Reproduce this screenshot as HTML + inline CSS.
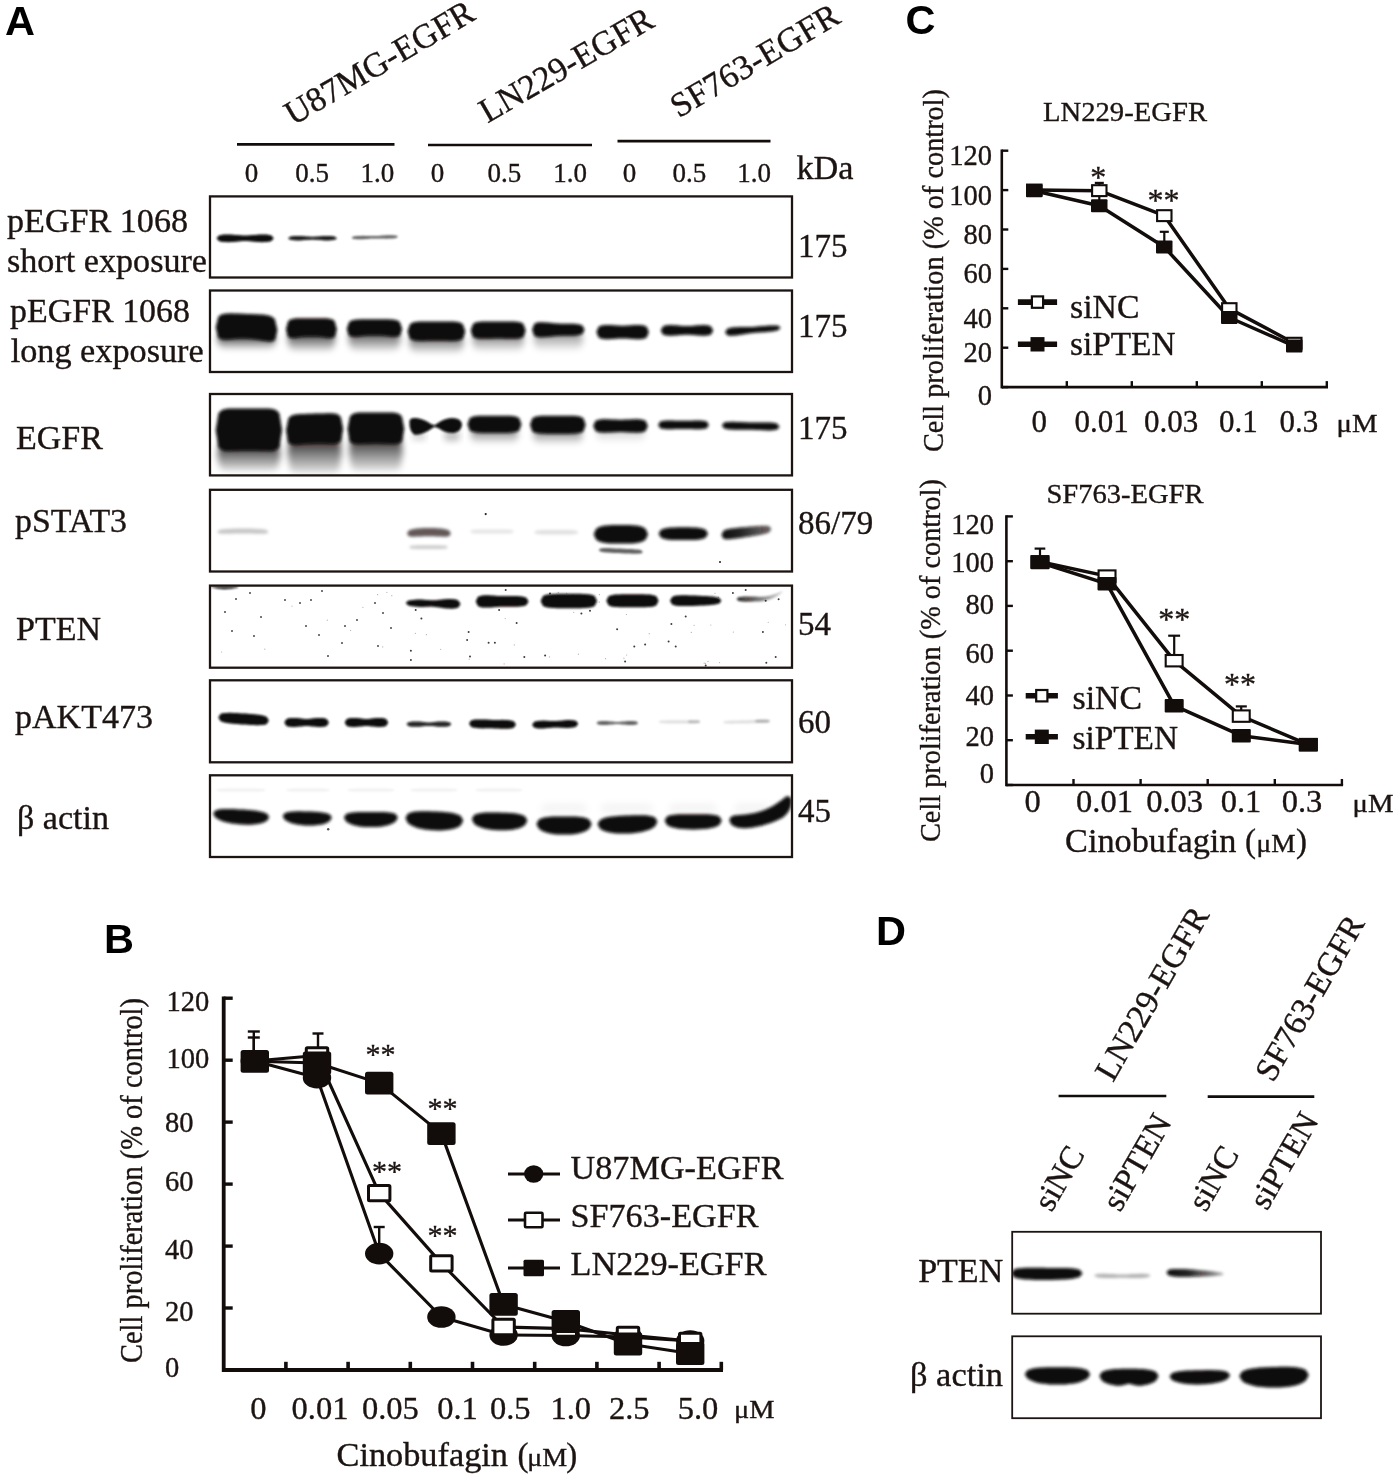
<!DOCTYPE html>
<html lang="en"><head><meta charset="utf-8"><title>Figure</title>
<style>
html,body{margin:0;padding:0;background:#fff}
svg{display:block}
text{font-family:"Liberation Serif","DejaVu Serif",serif;fill:#1c1412;stroke:#1c1412;stroke-width:.35px}
.sb{font-family:"Liberation Sans","DejaVu Sans",sans-serif;font-weight:bold;fill:#000;stroke:none}
line,polyline{stroke:#120c0b;fill:none}
</style></head><body>
<svg width="1400" height="1476" viewBox="0 0 1400 1476">
<defs>
<filter id="b1" x="-20%" y="-60%" width="140%" height="220%"><feGaussianBlur stdDeviation="0.9"/></filter>
<filter id="b2" x="-20%" y="-60%" width="140%" height="220%"><feGaussianBlur stdDeviation="1.8"/></filter>
<filter id="b3" x="-20%" y="-60%" width="140%" height="220%"><feGaussianBlur stdDeviation="3"/></filter>
<filter id="b5" x="-30%" y="-80%" width="160%" height="260%"><feGaussianBlur stdDeviation="5"/></filter>
</defs>
<rect width="1400" height="1476" fill="#fff"/>

<text x="5.0" y="34.7" font-size="41.5" class="sb">A</text>
<text x="104.0" y="952.8" font-size="41.5" class="sb">B</text>
<text x="905.5" y="34.4" font-size="41.5" class="sb">C</text>
<text x="876.0" y="944.5" font-size="41.5" class="sb">D</text>
<g id="panelA">
<text x="293.0" y="126.0" font-size="34.5" textLength="213.0" lengthAdjust="spacingAndGlyphs" transform="rotate(-30.2 293.0 126.0)">U87MG-EGFR</text>
<text x="487.4" y="123.5" font-size="34.5" textLength="195.0" lengthAdjust="spacingAndGlyphs" transform="rotate(-30 487.4 123.5)">LN229-EGFR</text>
<text x="678.8" y="118.5" font-size="34.5" textLength="190.0" lengthAdjust="spacingAndGlyphs" transform="rotate(-30.6 678.8 118.5)">SF763-EGFR</text>
<line x1="237.0" y1="144.4" x2="394.5" y2="144.4" stroke-width="2.6" stroke-linecap="butt"/>
<line x1="428.0" y1="145.0" x2="592.0" y2="145.0" stroke-width="2.6" stroke-linecap="butt"/>
<line x1="617.5" y1="141.1" x2="770.5" y2="141.1" stroke-width="2.6" stroke-linecap="butt"/>
<text x="251.4" y="182.0" font-size="27" text-anchor="middle">0</text>
<text x="312.0" y="182.0" font-size="27" text-anchor="middle">0.5</text>
<text x="377.4" y="182.0" font-size="27" text-anchor="middle">1.0</text>
<text x="437.4" y="182.0" font-size="27" text-anchor="middle">0</text>
<text x="504.3" y="182.0" font-size="27" text-anchor="middle">0.5</text>
<text x="570.2" y="182.0" font-size="27" text-anchor="middle">1.0</text>
<text x="629.5" y="182.0" font-size="27" text-anchor="middle">0</text>
<text x="689.3" y="182.0" font-size="27" text-anchor="middle">0.5</text>
<text x="754.2" y="182.0" font-size="27" text-anchor="middle">1.0</text>
<text x="796.5" y="179.0" font-size="33" textLength="57.0" lengthAdjust="spacingAndGlyphs">kDa</text>
<text x="7.0" y="231.5" font-size="33.5" textLength="181.0" lengthAdjust="spacingAndGlyphs">pEGFR 1068</text>
<text x="7.0" y="272.0" font-size="33.5" textLength="200.0" lengthAdjust="spacingAndGlyphs">short exposure</text>
<text x="10.0" y="321.7" font-size="33.5" textLength="180.0" lengthAdjust="spacingAndGlyphs">pEGFR 1068</text>
<text x="10.7" y="362.0" font-size="33.5" textLength="193.0" lengthAdjust="spacingAndGlyphs">long exposure</text>
<text x="16.0" y="448.8" font-size="33.5" textLength="87.0" lengthAdjust="spacingAndGlyphs">EGFR</text>
<text x="15.0" y="532.3" font-size="33.5" textLength="112.0" lengthAdjust="spacingAndGlyphs">pSTAT3</text>
<text x="16.0" y="640.2" font-size="33.5" textLength="85.0" lengthAdjust="spacingAndGlyphs">PTEN</text>
<text x="15.0" y="728.0" font-size="33.5" textLength="138.0" lengthAdjust="spacingAndGlyphs">pAKT473</text>
<text x="17.0" y="828.8" font-size="33.5" textLength="92.0" lengthAdjust="spacingAndGlyphs">β actin</text>
<text x="798.0" y="256.5" font-size="33">175</text>
<text x="798.0" y="337.0" font-size="33">175</text>
<text x="798.0" y="439.3" font-size="33">175</text>
<text x="798.0" y="534.3" font-size="33">86/79</text>
<text x="798.0" y="634.8" font-size="33">54</text>
<text x="798.0" y="732.7" font-size="33">60</text>
<text x="798.0" y="821.7" font-size="33">45</text>
<clipPath id="cA"><rect x="210" y="196.4" width="582" height="81.1"/><rect x="210" y="290.5" width="582" height="81.5"/><rect x="210" y="394" width="582" height="81.4"/><rect x="210" y="489.8" width="582" height="81.7"/><rect x="210" y="585.6" width="582" height="82.1"/><rect x="210" y="680.3" width="582" height="82.0"/><rect x="210" y="775.3" width="582" height="81.7"/></clipPath><g clip-path="url(#cA)">
<linearGradient id="sm" x1="0" x2="0" y1="0" y2="1"><stop offset="0" stop-color="#0a0909" stop-opacity="1"/><stop offset=".45" stop-color="#0a0909" stop-opacity=".55"/><stop offset="1" stop-color="#0a0909" stop-opacity=".1"/></linearGradient>
<polygon points="216.5,238.3 218.9,235.5 221.3,234.9 223.7,234.6 226.1,234.5 228.4,234.4 230.8,234.5 233.2,234.7 235.6,234.9 238.0,235.1 240.4,235.3 242.8,235.5 245.2,235.5 247.5,235.5 249.9,235.3 252.3,235.1 254.7,234.9 257.1,234.7 259.5,234.5 261.9,234.4 264.2,234.5 266.6,234.6 269.0,234.9 271.4,235.5 273.8,238.3 273.8,238.3 271.4,241.1 269.0,241.7 266.6,242.0 264.2,242.1 261.9,242.2 259.5,242.1 257.1,241.9 254.7,241.7 252.3,241.5 249.9,241.3 247.5,241.1 245.2,241.1 242.8,241.1 240.4,241.3 238.0,241.5 235.6,241.7 233.2,241.9 230.8,242.1 228.4,242.2 226.1,242.1 223.7,242.0 221.3,241.7 218.9,241.1 216.5,238.3" fill="#0a0909" fill-opacity="1.0" filter="url(#b1)"/>
<polygon points="288.0,238.2 290.0,236.7 292.1,236.3 294.1,236.1 296.2,236.0 298.2,236.0 300.2,236.0 302.3,236.1 304.3,236.3 306.4,236.5 308.4,236.6 310.5,236.7 312.5,236.8 314.5,236.7 316.6,236.6 318.6,236.5 320.7,236.3 322.7,236.1 324.8,236.0 326.8,236.0 328.8,236.0 330.9,236.1 332.9,236.3 335.0,236.7 337.0,238.2 337.0,238.2 335.0,239.7 332.9,240.1 330.9,240.3 328.8,240.4 326.8,240.4 324.8,240.4 322.7,240.3 320.7,240.1 318.6,239.9 316.6,239.8 314.5,239.7 312.5,239.6 310.5,239.7 308.4,239.8 306.4,239.9 304.3,240.1 302.3,240.3 300.2,240.4 298.2,240.4 296.2,240.4 294.1,240.3 292.1,240.1 290.0,239.7 288.0,238.2" fill="#0a0909" fill-opacity="0.95" filter="url(#b1)"/>
<polygon points="351.5,237.8 353.4,236.6 355.4,236.3 357.3,236.1 359.2,235.9 361.2,235.9 363.1,235.8 365.1,235.9 367.0,235.9 368.9,236.0 370.9,236.1 372.8,236.1 374.8,236.1 376.7,236.0 378.6,235.9 380.6,235.7 382.5,235.6 384.4,235.5 386.4,235.3 388.3,235.3 390.2,235.3 392.2,235.3 394.1,235.4 396.1,235.6 398.0,236.8 398.0,236.8 396.1,237.9 394.1,238.2 392.2,238.4 390.2,238.6 388.3,238.6 386.4,238.7 384.4,238.6 382.5,238.6 380.6,238.5 378.6,238.4 376.7,238.4 374.8,238.4 372.8,238.5 370.9,238.6 368.9,238.8 367.0,238.9 365.1,239.0 363.1,239.2 361.2,239.2 359.2,239.2 357.3,239.2 355.4,239.1 353.4,238.9 351.5,237.8" fill="#0a0909" fill-opacity="0.62" filter="url(#b1)"/>
<polygon points="217.2,340.3 219.6,333.5 222.1,332.4 224.5,331.9 227.0,331.7 229.4,331.6 231.9,331.6 234.3,331.6 236.8,331.6 239.2,331.6 241.7,331.6 244.1,331.6 246.5,331.6 249.0,331.6 251.4,331.6 253.9,331.6 256.3,331.6 258.8,331.6 261.2,331.6 263.7,331.6 266.1,331.7 268.6,331.9 271.0,332.4 273.5,333.5 275.9,340.3 275.9,340.3 273.5,347.1 271.0,348.2 268.6,348.7 266.1,348.9 263.7,349.0 261.2,349.0 258.8,349.0 256.3,349.0 253.9,349.0 251.4,349.0 249.0,349.0 246.5,349.0 244.1,349.0 241.7,349.0 239.2,349.0 236.8,349.0 234.3,349.0 231.9,349.0 229.4,349.0 227.0,348.9 224.5,348.7 222.1,348.2 219.6,347.1 217.2,340.3" fill="url(#sm)" fill-opacity="1" filter="url(#b3)"/>
<polygon points="215.7,327.5 218.3,316.8 220.8,314.8 223.4,313.9 226.0,313.5 228.6,313.4 231.1,313.3 233.7,313.4 236.3,313.5 238.8,313.6 241.4,313.7 244.0,313.8 246.5,313.9 249.1,314.0 251.7,314.1 254.3,314.2 256.8,314.3 259.4,314.4 262.0,314.6 264.5,314.8 267.1,315.2 269.7,315.8 272.3,316.9 274.8,319.0 277.4,330.0 277.4,330.0 274.8,339.9 272.3,341.2 269.7,341.4 267.1,341.2 264.5,340.8 262.0,340.4 259.4,340.0 256.8,339.6 254.3,339.2 251.7,338.9 249.1,338.7 246.5,338.6 244.0,338.5 241.4,338.5 238.8,338.6 236.3,338.7 233.7,338.9 231.1,339.2 228.6,339.4 226.0,339.6 223.4,339.5 220.8,339.1 218.3,337.7 215.7,327.5" fill="#0a0909" fill-opacity="1.0" filter="url(#b2)"/>
<polygon points="287.5,340.2 289.5,331.8 291.5,330.4 293.5,329.8 295.5,329.6 297.5,329.5 299.4,329.4 301.4,329.4 303.4,329.4 305.4,329.4 307.4,329.4 309.4,329.4 311.4,329.4 313.4,329.4 315.4,329.4 317.4,329.4 319.4,329.4 321.4,329.4 323.4,329.4 325.3,329.5 327.3,329.6 329.3,329.8 331.3,330.4 333.3,331.8 335.3,340.2 335.3,340.2 333.3,348.6 331.3,350.0 329.3,350.6 327.3,350.8 325.3,350.9 323.4,351.0 321.4,351.0 319.4,351.0 317.4,351.0 315.4,351.0 313.4,351.0 311.4,351.0 309.4,351.0 307.4,351.0 305.4,351.0 303.4,351.0 301.4,351.0 299.4,351.0 297.5,350.9 295.5,350.8 293.5,350.6 291.5,350.0 289.5,348.6 287.5,340.2" fill="url(#sm)" fill-opacity="0.95" filter="url(#b3)"/>
<polygon points="286.0,329.3 288.1,321.2 290.2,319.6 292.4,318.9 294.5,318.5 296.6,318.3 298.7,318.3 300.8,318.2 302.9,318.2 305.1,318.2 307.2,318.2 309.3,318.2 311.4,318.2 313.5,318.2 315.6,318.2 317.8,318.2 319.9,318.2 322.0,318.2 324.1,318.3 326.2,318.3 328.3,318.5 330.4,318.9 332.6,319.6 334.7,321.2 336.8,329.3 336.8,329.3 334.7,336.8 332.6,337.7 330.4,338.0 328.3,337.9 326.2,337.6 324.1,337.3 322.0,337.1 319.9,336.8 317.8,336.6 315.6,336.5 313.5,336.4 311.4,336.4 309.3,336.4 307.2,336.5 305.1,336.6 302.9,336.8 300.8,337.1 298.7,337.3 296.6,337.6 294.5,337.9 292.4,338.0 290.2,337.7 288.1,336.8 286.0,329.3" fill="#0a0909" fill-opacity="1.0" filter="url(#b2)"/>
<polygon points="348.3,339.7 350.5,330.9 352.7,329.4 354.8,328.8 357.0,328.6 359.2,328.5 361.4,328.4 363.6,328.4 365.7,328.4 367.9,328.4 370.1,328.4 372.3,328.4 374.5,328.4 376.6,328.4 378.8,328.4 381.0,328.4 383.2,328.4 385.3,328.4 387.5,328.4 389.7,328.5 391.9,328.6 394.1,328.8 396.2,329.4 398.4,330.9 400.6,339.7 400.6,339.7 398.4,348.5 396.2,350.0 394.1,350.6 391.9,350.8 389.7,350.9 387.5,351.0 385.3,351.0 383.2,351.0 381.0,351.0 378.8,351.0 376.6,351.0 374.5,351.0 372.3,351.0 370.1,351.0 367.9,351.0 365.7,351.0 363.6,351.0 361.4,351.0 359.2,350.9 357.0,350.8 354.8,350.6 352.7,350.0 350.5,348.5 348.3,339.7" fill="url(#sm)" fill-opacity="0.8500000000000001" filter="url(#b3)"/>
<polygon points="346.8,329.1 349.1,321.9 351.4,320.6 353.7,319.9 356.0,319.6 358.3,319.4 360.6,319.3 362.9,319.3 365.2,319.3 367.5,319.3 369.8,319.3 372.1,319.3 374.5,319.3 376.8,319.3 379.1,319.3 381.4,319.3 383.7,319.3 386.0,319.3 388.3,319.3 390.6,319.4 392.9,319.6 395.2,319.9 397.5,320.6 399.8,321.9 402.1,329.1 402.1,329.1 399.8,335.7 397.5,336.6 395.2,336.8 392.9,336.7 390.6,336.5 388.3,336.2 386.0,336.0 383.7,335.8 381.4,335.6 379.1,335.5 376.8,335.4 374.5,335.4 372.1,335.4 369.8,335.5 367.5,335.6 365.2,335.8 362.9,336.0 360.6,336.2 358.3,336.5 356.0,336.7 353.7,336.8 351.4,336.6 349.1,335.7 346.8,329.1" fill="#0a0909" fill-opacity="1.0" filter="url(#b2)"/>
<polygon points="409.0,343.4 411.3,335.8 413.6,334.6 415.9,334.1 418.1,333.8 420.4,333.7 422.7,333.7 425.0,333.7 427.3,333.7 429.6,333.7 431.8,333.7 434.1,333.7 436.4,333.7 438.7,333.7 441.0,333.7 443.2,333.7 445.5,333.7 447.8,333.7 450.1,333.7 452.4,333.7 454.7,333.8 456.9,334.1 459.2,334.6 461.5,335.8 463.8,343.4 463.8,343.4 461.5,350.9 459.2,352.1 456.9,352.6 454.7,352.9 452.4,353.0 450.1,353.0 447.8,353.0 445.5,353.0 443.2,353.0 441.0,353.0 438.7,353.0 436.4,353.0 434.1,353.0 431.8,353.0 429.6,353.0 427.3,353.0 425.0,353.0 422.7,353.0 420.4,353.0 418.1,352.9 415.9,352.6 413.6,352.1 411.3,350.9 409.0,343.4" fill="url(#sm)" fill-opacity="0.75" filter="url(#b3)"/>
<polygon points="407.5,331.5 409.9,324.2 412.3,322.8 414.7,322.1 417.1,321.7 419.5,321.5 421.9,321.5 424.4,321.4 426.8,321.4 429.2,321.4 431.6,321.4 434.0,321.4 436.4,321.4 438.8,321.4 441.2,321.4 443.6,321.4 446.0,321.4 448.4,321.4 450.9,321.5 453.3,321.5 455.7,321.7 458.1,322.1 460.5,322.8 462.9,324.2 465.3,331.5 465.3,331.5 462.9,338.8 460.5,340.0 458.1,340.6 455.7,340.8 453.3,340.9 450.9,340.9 448.4,340.9 446.0,340.8 443.6,340.8 441.2,340.7 438.8,340.7 436.4,340.7 434.0,340.7 431.6,340.7 429.2,340.8 426.8,340.8 424.4,340.9 421.9,340.9 419.5,340.9 417.1,340.8 414.7,340.6 412.3,340.0 409.9,338.8 407.5,331.5" fill="#0a0909" fill-opacity="1.0" filter="url(#b2)"/>
<polygon points="472.2,341.3 474.4,333.7 476.5,332.5 478.7,332.0 480.9,331.7 483.0,331.6 485.2,331.6 487.4,331.6 489.5,331.6 491.7,331.6 493.9,331.6 496.0,331.6 498.2,331.6 500.4,331.6 502.5,331.6 504.7,331.6 506.9,331.6 509.0,331.6 511.2,331.6 513.4,331.6 515.5,331.7 517.7,332.0 519.9,332.5 522.0,333.7 524.2,341.3 524.2,341.3 522.0,348.9 519.9,350.1 517.7,350.6 515.5,350.9 513.4,351.0 511.2,351.0 509.0,351.0 506.9,351.0 504.7,351.0 502.5,351.0 500.4,351.0 498.2,351.0 496.0,351.0 493.9,351.0 491.7,351.0 489.5,351.0 487.4,351.0 485.2,351.0 483.0,351.0 480.9,350.9 478.7,350.6 476.5,350.1 474.4,348.9 472.2,341.3" fill="url(#sm)" fill-opacity="0.625" filter="url(#b3)"/>
<polygon points="470.7,330.5 473.0,323.9 475.3,322.6 477.6,322.0 479.9,321.7 482.2,321.5 484.4,321.4 486.7,321.4 489.0,321.4 491.3,321.4 493.6,321.4 495.9,321.4 498.2,321.4 500.5,321.4 502.8,321.4 505.1,321.4 507.4,321.4 509.7,321.4 512.0,321.4 514.2,321.5 516.5,321.7 518.8,322.0 521.1,322.6 523.4,323.9 525.7,330.5 525.7,330.5 523.4,336.9 521.1,338.1 518.8,338.6 516.5,338.8 514.2,338.8 512.0,338.8 509.7,338.8 507.4,338.7 505.1,338.7 502.8,338.6 500.5,338.6 498.2,338.6 495.9,338.6 493.6,338.6 491.3,338.7 489.0,338.7 486.7,338.8 484.4,338.8 482.2,338.8 479.9,338.8 477.6,338.6 475.3,338.1 473.0,336.9 470.7,330.5" fill="#0a0909" fill-opacity="1.0" filter="url(#b2)"/>
<polygon points="533.6,340.2 535.7,332.6 537.7,331.4 539.8,330.9 541.9,330.6 543.9,330.5 546.0,330.5 548.0,330.5 550.1,330.5 552.2,330.5 554.2,330.5 556.3,330.5 558.4,330.5 560.4,330.5 562.5,330.5 564.5,330.5 566.6,330.5 568.7,330.5 570.7,330.5 572.8,330.5 574.9,330.6 576.9,330.9 579.0,331.4 581.0,332.6 583.1,340.2 583.1,340.2 581.0,347.9 579.0,349.1 576.9,349.6 574.9,349.9 572.8,350.0 570.7,350.0 568.7,350.0 566.6,350.0 564.5,350.0 562.5,350.0 560.4,350.0 558.4,350.0 556.3,350.0 554.2,350.0 552.2,350.0 550.1,350.0 548.0,350.0 546.0,350.0 543.9,350.0 541.9,349.9 539.8,349.6 537.7,349.1 535.7,347.9 533.6,340.2" fill="url(#sm)" fill-opacity="0.5" filter="url(#b3)"/>
<polygon points="532.1,329.8 534.3,323.8 536.5,322.7 538.7,322.3 540.9,322.2 543.0,322.2 545.2,322.4 547.4,322.6 549.6,322.8 551.8,323.1 554.0,323.3 556.2,323.5 558.4,323.6 560.5,323.7 562.7,323.7 564.9,323.7 567.1,323.7 569.3,323.7 571.5,323.7 573.7,323.8 575.9,324.0 578.0,324.3 580.2,324.7 582.4,325.6 584.6,329.8 584.6,329.8 582.4,333.9 580.2,334.8 578.0,335.2 575.9,335.5 573.7,335.7 571.5,335.8 569.3,335.8 567.1,335.8 564.9,335.8 562.7,335.8 560.5,335.8 558.4,335.9 556.2,336.0 554.0,336.2 551.8,336.4 549.6,336.7 547.4,336.9 545.2,337.1 543.0,337.3 540.9,337.3 538.7,337.2 536.5,336.8 534.3,335.7 532.1,329.8" fill="#0a0909" fill-opacity="1.0" filter="url(#b2)"/>
<polygon points="596.4,332.1 598.6,326.7 600.8,325.7 603.0,325.2 605.1,325.0 607.3,324.9 609.5,324.9 611.7,325.1 613.9,325.2 616.1,325.4 618.3,325.6 620.5,325.7 622.6,325.7 624.8,325.7 627.0,325.6 629.2,325.4 631.4,325.2 633.6,325.1 635.8,324.9 638.0,324.9 640.1,325.0 642.3,325.2 644.5,325.7 646.7,326.7 648.9,332.1 648.9,332.1 646.7,337.5 644.5,338.5 642.3,339.0 640.1,339.2 638.0,339.3 635.8,339.3 633.6,339.1 631.4,339.0 629.2,338.8 627.0,338.6 624.8,338.5 622.6,338.5 620.5,338.5 618.3,338.6 616.1,338.8 613.9,339.0 611.7,339.1 609.5,339.3 607.3,339.3 605.1,339.2 603.0,339.0 600.8,338.5 598.6,337.5 596.4,332.1" fill="#0a0909" fill-opacity="1.0" filter="url(#b2)"/>
<polygon points="660.7,330.4 662.9,326.4 665.1,325.6 667.3,325.2 669.5,325.1 671.6,325.1 673.8,325.2 676.0,325.3 678.2,325.5 680.4,325.7 682.6,325.9 684.8,326.0 687.0,326.0 689.1,326.0 691.3,325.9 693.5,325.7 695.7,325.5 697.9,325.3 700.1,325.2 702.3,325.1 704.5,325.1 706.6,325.2 708.8,325.6 711.0,326.4 713.2,330.4 713.2,330.4 711.0,334.4 708.8,335.2 706.6,335.6 704.5,335.7 702.3,335.7 700.1,335.6 697.9,335.5 695.7,335.3 693.5,335.1 691.3,334.9 689.1,334.8 687.0,334.8 684.8,334.8 682.6,334.9 680.4,335.1 678.2,335.3 676.0,335.5 673.8,335.6 671.6,335.7 669.5,335.7 667.3,335.6 665.1,335.2 662.9,334.4 660.7,330.4" fill="#0a0909" fill-opacity="1.0" filter="url(#b2)"/>
<polygon points="725.0,332.2 727.3,328.7 729.6,327.9 732.0,327.5 734.3,327.3 736.6,327.2 738.9,327.1 741.2,327.1 743.6,327.1 745.9,327.1 748.2,327.1 750.5,327.0 752.9,326.9 755.2,326.8 757.5,326.5 759.8,326.3 762.1,326.1 764.5,325.9 766.8,325.7 769.1,325.5 771.4,325.4 773.7,325.4 776.1,325.4 778.4,325.7 780.7,327.7 780.7,327.7 778.4,330.1 776.1,330.7 773.7,331.2 771.4,331.5 769.1,331.8 766.8,332.0 764.5,332.2 762.1,332.3 759.8,332.5 757.5,332.6 755.2,332.8 752.9,333.0 750.5,333.3 748.2,333.6 745.9,334.0 743.6,334.3 741.2,334.7 738.9,335.1 736.6,335.4 734.3,335.6 732.0,335.7 729.6,335.7 727.3,335.3 725.0,332.2" fill="#0a0909" fill-opacity="1.0" filter="url(#b2)"/>
<polygon points="217.2,455.8 219.8,443.2 222.5,441.4 225.1,440.8 227.8,440.6 230.4,440.5 233.1,440.5 235.7,440.5 238.3,440.5 241.0,440.5 243.6,440.5 246.3,440.5 248.9,440.5 251.5,440.5 254.2,440.5 256.8,440.5 259.5,440.5 262.1,440.5 264.8,440.5 267.4,440.5 270.0,440.6 272.7,440.8 275.3,441.4 278.0,443.2 280.6,455.8 280.6,455.8 278.0,468.3 275.3,470.1 272.7,470.7 270.0,470.9 267.4,471.0 264.8,471.0 262.1,471.0 259.5,471.0 256.8,471.0 254.2,471.0 251.5,471.0 248.9,471.0 246.3,471.0 243.6,471.0 241.0,471.0 238.3,471.0 235.7,471.0 233.1,471.0 230.4,471.0 227.8,470.9 225.1,470.7 222.5,470.1 219.8,468.3 217.2,455.8" fill="url(#sm)" fill-opacity="1" filter="url(#b3)"/>
<polygon points="215.7,430.2 218.5,413.3 221.2,410.5 224.0,409.3 226.8,408.8 229.5,408.6 232.3,408.5 235.1,408.5 237.8,408.5 240.6,408.5 243.4,408.5 246.1,408.5 248.9,408.5 251.7,408.5 254.4,408.5 257.2,408.5 260.0,408.5 262.7,408.5 265.5,408.5 268.3,408.6 271.0,408.8 273.8,409.3 276.6,410.5 279.3,413.3 282.1,430.2 282.1,430.2 279.3,447.0 276.6,449.6 273.8,450.5 271.0,450.9 268.3,450.9 265.5,450.8 262.7,450.8 260.0,450.7 257.2,450.6 254.4,450.5 251.7,450.5 248.9,450.5 246.1,450.5 243.4,450.5 240.6,450.6 237.8,450.7 235.1,450.8 232.3,450.8 229.5,450.9 226.8,450.9 224.0,450.5 221.2,449.6 218.5,447.0 215.7,430.2" fill="#0a0909" fill-opacity="1.0" filter="url(#b2)"/>
<polygon points="287.5,453.3 289.8,437.1 292.0,434.8 294.3,434.0 296.5,433.7 298.8,433.6 301.1,433.6 303.3,433.6 305.6,433.6 307.8,433.6 310.1,433.6 312.3,433.6 314.6,433.6 316.9,433.6 319.1,433.6 321.4,433.6 323.6,433.6 325.9,433.6 328.1,433.6 330.4,433.6 332.7,433.7 334.9,434.0 337.2,434.8 339.4,437.1 341.7,453.3 341.7,453.3 339.4,469.5 337.2,471.8 334.9,472.6 332.7,472.9 330.4,473.0 328.1,473.0 325.9,473.0 323.6,473.0 321.4,473.0 319.1,473.0 316.9,473.0 314.6,473.0 312.3,473.0 310.1,473.0 307.8,473.0 305.6,473.0 303.3,473.0 301.1,473.0 298.8,473.0 296.5,472.9 294.3,472.6 292.0,471.8 289.8,469.5 287.5,453.3" fill="url(#sm)" fill-opacity="1" filter="url(#b3)"/>
<polygon points="286.0,430.6 288.4,418.2 290.8,416.0 293.1,415.0 295.5,414.4 297.9,414.2 300.3,414.0 302.7,413.9 305.1,413.9 307.4,413.8 309.8,413.7 312.2,413.7 314.6,413.6 317.0,413.5 319.4,413.5 321.8,413.4 324.1,413.4 326.5,413.3 328.9,413.3 331.3,413.3 333.7,413.4 336.1,413.8 338.4,414.7 340.8,416.9 343.2,429.1 343.2,429.1 340.8,441.1 338.4,442.9 336.1,443.7 333.7,443.9 331.3,443.9 328.9,443.8 326.5,443.7 324.1,443.6 321.8,443.6 319.4,443.5 317.0,443.6 314.6,443.6 312.2,443.7 309.8,443.8 307.4,443.9 305.1,444.1 302.7,444.3 300.3,444.6 297.9,444.8 295.5,444.9 293.1,444.8 290.8,444.2 288.4,442.4 286.0,430.6" fill="#0a0909" fill-opacity="1.0" filter="url(#b2)"/>
<polygon points="349.0,452.3 351.2,436.9 353.5,434.7 355.7,434.0 358.0,433.7 360.2,433.6 362.4,433.6 364.7,433.6 366.9,433.6 369.2,433.6 371.4,433.6 373.7,433.6 375.9,433.6 378.1,433.6 380.4,433.6 382.6,433.6 384.9,433.6 387.1,433.6 389.4,433.6 391.6,433.6 393.8,433.7 396.1,434.0 398.3,434.7 400.6,436.9 402.8,452.3 402.8,452.3 400.6,467.7 398.3,469.9 396.1,470.6 393.8,470.9 391.6,471.0 389.4,471.0 387.1,471.0 384.9,471.0 382.6,471.0 380.4,471.0 378.1,471.0 375.9,471.0 373.7,471.0 371.4,471.0 369.2,471.0 366.9,471.0 364.7,471.0 362.4,471.0 360.2,471.0 358.0,470.9 355.7,470.6 353.5,469.9 351.2,467.7 349.0,452.3" fill="url(#sm)" fill-opacity="0.96" filter="url(#b3)"/>
<polygon points="347.5,429.1 349.9,416.5 352.2,414.3 354.6,413.3 357.0,412.8 359.3,412.6 361.7,412.5 364.1,412.5 366.4,412.5 368.8,412.5 371.2,412.5 373.5,412.5 375.9,412.5 378.3,412.5 380.6,412.5 383.0,412.5 385.4,412.5 387.7,412.5 390.1,412.5 392.5,412.6 394.8,412.8 397.2,413.3 399.6,414.3 401.9,416.5 404.3,429.1 404.3,429.1 401.9,441.2 399.6,443.2 397.2,443.9 394.8,444.1 392.5,444.1 390.1,444.1 387.7,443.9 385.4,443.8 383.0,443.7 380.6,443.7 378.3,443.6 375.9,443.6 373.5,443.6 371.2,443.7 368.8,443.7 366.4,443.8 364.1,443.9 361.7,444.1 359.3,444.1 357.0,444.1 354.6,443.9 352.2,443.2 349.9,441.2 347.5,429.1" fill="#0a0909" fill-opacity="1.0" filter="url(#b2)"/>
<path d="M409.5 421 Q410 417.5 416 418 Q424 419 431 424 L434.5 425.2 L438 423 Q444 418.5 452 418 Q461 418 462 424 Q462 431 454 433 Q446 433.5 439 428.5 L434.5 426.8 L428 431 Q420 435.5 414 434.5 Q409 431 409.5 421Z" fill="#0a0909" filter="url(#b1)"/>
<polygon points="412.0,436.5 412.6,434.1 413.2,433.6 413.8,433.3 414.3,433.2 414.9,433.1 415.5,433.0 416.1,433.0 416.7,433.0 417.2,433.0 417.8,433.0 418.4,433.0 419.0,433.0 419.6,433.0 420.2,433.0 420.8,433.0 421.3,433.0 421.9,433.0 422.5,433.0 423.1,433.1 423.7,433.2 424.2,433.3 424.8,433.6 425.4,434.1 426.0,436.5 426.0,436.5 425.4,438.9 424.8,439.4 424.2,439.7 423.7,439.8 423.1,439.9 422.5,440.0 421.9,440.0 421.3,440.0 420.8,440.0 420.2,440.0 419.6,440.0 419.0,440.0 418.4,440.0 417.8,440.0 417.2,440.0 416.7,440.0 416.1,440.0 415.5,440.0 414.9,439.9 414.3,439.8 413.8,439.7 413.2,439.4 412.6,438.9 412.0,436.5" fill="#0a0909" fill-opacity="0.18" filter="url(#b3)"/>
<polygon points="444.0,436.0 444.7,432.6 445.3,431.8 446.0,431.5 446.7,431.2 447.3,431.1 448.0,431.1 448.7,431.0 449.3,431.0 450.0,431.0 450.7,431.0 451.3,431.0 452.0,431.0 452.7,431.0 453.3,431.0 454.0,431.0 454.7,431.0 455.3,431.0 456.0,431.1 456.7,431.1 457.3,431.2 458.0,431.5 458.7,431.8 459.3,432.6 460.0,436.0 460.0,436.0 459.3,439.4 458.7,440.2 458.0,440.5 457.3,440.8 456.7,440.9 456.0,440.9 455.3,441.0 454.7,441.0 454.0,441.0 453.3,441.0 452.7,441.0 452.0,441.0 451.3,441.0 450.7,441.0 450.0,441.0 449.3,441.0 448.7,441.0 448.0,440.9 447.3,440.9 446.7,440.8 446.0,440.5 445.3,440.2 444.7,439.4 444.0,436.0" fill="#0a0909" fill-opacity="0.25" filter="url(#b3)"/>
<polygon points="470.5,435.4 472.5,429.6 474.5,428.6 476.5,428.2 478.5,428.0 480.5,427.9 482.5,427.9 484.5,427.9 486.5,427.9 488.5,427.9 490.5,427.9 492.5,427.9 494.4,427.9 496.4,427.9 498.4,427.9 500.4,427.9 502.4,427.9 504.4,427.9 506.4,427.9 508.4,427.9 510.4,428.0 512.4,428.2 514.4,428.6 516.4,429.6 518.4,435.4 518.4,435.4 516.4,441.3 514.4,442.3 512.4,442.7 510.4,442.9 508.4,443.0 506.4,443.0 504.4,443.0 502.4,443.0 500.4,443.0 498.4,443.0 496.4,443.0 494.4,443.0 492.5,443.0 490.5,443.0 488.5,443.0 486.5,443.0 484.5,443.0 482.5,443.0 480.5,443.0 478.5,442.9 476.5,442.7 474.5,442.3 472.5,441.3 470.5,435.4" fill="url(#sm)" fill-opacity="0.5760000000000001" filter="url(#b3)"/>
<polygon points="467.5,424.3 469.7,418.1 472.0,416.9 474.2,416.3 476.5,416.0 478.7,415.8 481.0,415.7 483.2,415.7 485.5,415.7 487.7,415.7 490.0,415.7 492.2,415.7 494.4,415.7 496.7,415.7 498.9,415.7 501.2,415.7 503.4,415.7 505.7,415.7 507.9,415.7 510.2,415.8 512.4,416.0 514.7,416.3 516.9,416.9 519.2,418.1 521.4,424.3 521.4,424.3 519.2,430.5 516.9,431.7 514.7,432.3 512.4,432.6 510.2,432.8 507.9,432.9 505.7,432.9 503.4,432.9 501.2,432.9 498.9,432.9 496.7,432.9 494.4,432.9 492.2,432.9 490.0,432.9 487.7,432.9 485.5,432.9 483.2,432.9 481.0,432.9 478.7,432.8 476.5,432.6 474.2,432.3 472.0,431.7 469.7,430.5 467.5,424.3" fill="#0a0909" fill-opacity="1.0" filter="url(#b2)"/>
<polygon points="533.0,436.4 535.1,430.6 537.1,429.6 539.2,429.2 541.3,429.0 543.4,428.9 545.4,428.9 547.5,428.9 549.6,428.9 551.6,428.9 553.7,428.9 555.8,428.9 557.9,428.9 559.9,428.9 562.0,428.9 564.1,428.9 566.1,428.9 568.2,428.9 570.3,428.9 572.3,428.9 574.4,429.0 576.5,429.2 578.6,429.6 580.6,430.6 582.7,436.4 582.7,436.4 580.6,442.3 578.6,443.3 576.5,443.7 574.4,443.9 572.3,444.0 570.3,444.0 568.2,444.0 566.1,444.0 564.1,444.0 562.0,444.0 559.9,444.0 557.9,444.0 555.8,444.0 553.7,444.0 551.6,444.0 549.6,444.0 547.5,444.0 545.4,444.0 543.4,444.0 541.3,443.9 539.2,443.7 537.1,443.3 535.1,442.3 533.0,436.4" fill="url(#sm)" fill-opacity="0.54" filter="url(#b3)"/>
<polygon points="530.0,424.8 532.3,418.2 534.6,416.9 537.0,416.3 539.3,416.0 541.6,415.8 543.9,415.8 546.2,415.7 548.6,415.7 550.9,415.7 553.2,415.7 555.5,415.7 557.9,415.7 560.2,415.7 562.5,415.7 564.8,415.7 567.1,415.7 569.5,415.7 571.8,415.8 574.1,415.8 576.4,416.0 578.7,416.3 581.1,416.9 583.4,418.2 585.7,424.8 585.7,424.8 583.4,431.4 581.1,432.7 578.7,433.3 576.4,433.6 574.1,433.8 571.8,433.8 569.5,433.9 567.1,433.9 564.8,433.9 562.5,433.9 560.2,433.9 557.9,433.9 555.5,433.9 553.2,433.9 550.9,433.9 548.6,433.9 546.2,433.9 543.9,433.8 541.6,433.8 539.3,433.6 537.0,433.3 534.6,432.7 532.3,431.4 530.0,424.8" fill="#0a0909" fill-opacity="1.0" filter="url(#b2)"/>
<polygon points="596.2,434.9 598.2,429.5 600.3,428.5 602.3,428.2 604.3,428.0 606.3,427.9 608.4,427.9 610.4,427.9 612.4,427.9 614.5,427.9 616.5,427.9 618.5,427.9 620.5,427.9 622.6,427.9 624.6,427.9 626.6,427.9 628.7,427.9 630.7,427.9 632.7,427.9 634.8,427.9 636.8,428.0 638.8,428.2 640.8,428.5 642.9,429.5 644.9,434.9 644.9,434.9 642.9,440.4 640.8,441.4 638.8,441.7 636.8,441.9 634.8,442.0 632.7,442.0 630.7,442.0 628.7,442.0 626.6,442.0 624.6,442.0 622.6,442.0 620.5,442.0 618.5,442.0 616.5,442.0 614.5,442.0 612.4,442.0 610.4,442.0 608.4,442.0 606.3,442.0 604.3,441.9 602.3,441.7 600.3,441.4 598.2,440.4 596.2,434.9" fill="url(#sm)" fill-opacity="0.216" filter="url(#b3)"/>
<polygon points="593.2,425.9 595.5,420.8 597.8,419.9 600.0,419.4 602.3,419.2 604.6,419.1 606.9,419.2 609.2,419.3 611.4,419.4 613.7,419.5 616.0,419.6 618.3,419.7 620.5,419.7 622.8,419.7 625.1,419.6 627.4,419.5 629.7,419.4 631.9,419.3 634.2,419.2 636.5,419.1 638.8,419.2 641.1,419.4 643.3,419.9 645.6,420.8 647.9,425.9 647.9,425.9 645.6,431.0 643.3,431.9 641.1,432.4 638.8,432.6 636.5,432.7 634.2,432.6 631.9,432.5 629.7,432.4 627.4,432.3 625.1,432.2 622.8,432.1 620.5,432.1 618.3,432.1 616.0,432.2 613.7,432.3 611.4,432.4 609.2,432.5 606.9,432.6 604.6,432.7 602.3,432.6 600.0,432.4 597.8,431.9 595.5,431.0 593.2,425.9" fill="#0a0909" fill-opacity="1.0" filter="url(#b2)"/>
<polygon points="658.1,424.9 660.2,421.6 662.3,421.0 664.5,420.7 666.6,420.6 668.7,420.5 670.8,420.5 672.9,420.6 675.0,420.7 677.1,420.7 679.3,420.8 681.4,420.8 683.5,420.8 685.6,420.8 687.7,420.8 689.9,420.7 692.0,420.7 694.1,420.6 696.2,420.5 698.3,420.5 700.4,420.6 702.5,420.7 704.7,421.0 706.8,421.6 708.9,424.9 708.9,424.9 706.8,428.2 704.7,428.8 702.5,429.1 700.4,429.2 698.3,429.3 696.2,429.3 694.1,429.2 692.0,429.1 689.9,429.1 687.7,429.0 685.6,429.0 683.5,428.9 681.4,429.0 679.3,429.0 677.1,429.1 675.0,429.1 672.9,429.2 670.8,429.3 668.7,429.3 666.6,429.2 664.5,429.1 662.3,428.8 660.2,428.2 658.1,424.9" fill="#0a0909" fill-opacity="1.0" filter="url(#b2)"/>
<polygon points="721.8,425.5 724.2,422.6 726.6,422.1 729.0,421.9 731.4,421.8 733.8,421.8 736.2,421.9 738.7,422.0 741.1,422.1 743.5,422.2 745.9,422.3 748.3,422.4 750.7,422.5 753.1,422.5 755.5,422.5 757.9,422.5 760.3,422.5 762.7,422.5 765.1,422.5 767.6,422.5 770.0,422.6 772.4,422.8 774.8,423.1 777.2,423.7 779.6,426.7 779.6,426.7 777.2,429.6 774.8,430.1 772.4,430.3 770.0,430.4 767.6,430.4 765.1,430.3 762.7,430.2 760.3,430.1 757.9,430.0 755.5,429.9 753.1,429.8 750.7,429.7 748.3,429.7 745.9,429.7 743.5,429.7 741.1,429.7 738.7,429.7 736.2,429.7 733.8,429.7 731.4,429.6 729.0,429.4 726.6,429.1 724.2,428.5 721.8,425.5" fill="#0a0909" fill-opacity="1.0" filter="url(#b2)"/>
<polygon points="217.0,532.0 219.2,530.1 221.3,529.6 223.4,529.3 225.6,529.1 227.8,528.9 229.9,528.8 232.1,528.7 234.2,528.6 236.4,528.6 238.5,528.5 240.7,528.5 242.8,528.5 245.0,528.5 247.1,528.5 249.2,528.6 251.4,528.6 253.6,528.7 255.7,528.8 257.9,528.9 260.0,529.1 262.2,529.3 264.3,529.6 266.5,530.1 268.6,532.0 268.6,532.0 266.5,533.6 264.3,533.8 262.2,533.8 260.0,533.8 257.9,533.8 255.7,533.7 253.6,533.7 251.4,533.6 249.2,533.6 247.1,533.5 245.0,533.5 242.8,533.5 240.7,533.5 238.5,533.5 236.4,533.6 234.2,533.6 232.1,533.7 229.9,533.7 227.8,533.8 225.6,533.8 223.4,533.8 221.3,533.8 219.2,533.6 217.0,532.0" fill="#0a0909" fill-opacity="0.22" filter="url(#b2)"/>
<polygon points="407.0,533.6 408.8,530.5 410.7,529.7 412.5,529.2 414.3,528.9 416.1,528.6 418.0,528.4 419.8,528.3 421.6,528.2 423.5,528.1 425.3,528.0 427.1,528.0 428.9,528.0 430.8,528.0 432.6,528.0 434.4,528.1 436.3,528.2 438.1,528.3 439.9,528.4 441.8,528.6 443.6,528.9 445.4,529.2 447.2,529.7 449.1,530.5 450.9,533.6 450.9,533.6 449.1,536.2 447.2,536.5 445.4,536.7 443.6,536.7 441.8,536.6 439.9,536.5 438.1,536.4 436.3,536.4 434.4,536.3 432.6,536.2 430.8,536.2 428.9,536.2 427.1,536.2 425.3,536.2 423.5,536.3 421.6,536.4 419.8,536.4 418.0,536.5 416.1,536.6 414.3,536.7 412.5,536.7 410.7,536.5 408.8,536.2 407.0,533.6" fill="#0a0909" fill-opacity="0.66" filter="url(#b2)"/>
<polygon points="409.0,547.1 410.6,545.9 412.2,545.6 413.9,545.5 415.5,545.4 417.1,545.3 418.8,545.3 420.4,545.3 422.0,545.3 423.6,545.3 425.2,545.3 426.9,545.3 428.5,545.3 430.1,545.3 431.8,545.3 433.4,545.3 435.0,545.3 436.6,545.3 438.2,545.3 439.9,545.3 441.5,545.4 443.1,545.5 444.8,545.6 446.4,545.9 448.0,547.1 448.0,547.1 446.4,548.4 444.8,548.7 443.1,548.8 441.5,548.9 439.9,549.0 438.2,549.0 436.6,549.0 435.0,549.0 433.4,549.0 431.8,549.0 430.1,549.0 428.5,549.0 426.9,549.0 425.2,549.0 423.6,549.0 422.0,549.0 420.4,549.0 418.8,549.0 417.1,549.0 415.5,548.9 413.9,548.8 412.2,548.7 410.6,548.4 409.0,547.1" fill="#0a0909" fill-opacity="0.2" filter="url(#b2)"/>
<polygon points="470.0,531.5 471.8,530.1 473.7,529.8 475.5,529.7 477.3,529.6 479.2,529.6 481.0,529.5 482.8,529.5 484.7,529.5 486.5,529.5 488.3,529.5 490.2,529.5 492.0,529.5 493.8,529.5 495.7,529.5 497.5,529.5 499.3,529.5 501.2,529.5 503.0,529.5 504.8,529.6 506.7,529.6 508.5,529.7 510.3,529.8 512.2,530.1 514.0,531.5 514.0,531.5 512.2,533.0 510.3,533.3 508.5,533.4 506.7,533.5 504.8,533.5 503.0,533.6 501.2,533.6 499.3,533.6 497.5,533.6 495.7,533.6 493.8,533.6 492.0,533.6 490.2,533.6 488.3,533.6 486.5,533.6 484.7,533.6 482.8,533.6 481.0,533.6 479.2,533.5 477.3,533.5 475.5,533.4 473.7,533.3 471.8,533.0 470.0,531.5" fill="#0a0909" fill-opacity="0.1" filter="url(#b2)"/>
<polygon points="534.0,532.2 535.9,530.7 537.7,530.4 539.6,530.2 541.4,530.1 543.3,530.1 545.1,530.0 547.0,530.0 548.9,530.0 550.7,530.0 552.6,530.0 554.4,530.0 556.3,530.0 558.2,530.0 560.0,530.0 561.9,530.0 563.7,530.0 565.6,530.0 567.5,530.0 569.3,530.1 571.2,530.1 573.0,530.2 574.9,530.4 576.7,530.7 578.6,532.2 578.6,532.2 576.7,533.8 574.9,534.1 573.0,534.3 571.2,534.4 569.3,534.4 567.5,534.5 565.6,534.5 563.7,534.5 561.9,534.5 560.0,534.5 558.2,534.5 556.3,534.5 554.4,534.5 552.6,534.5 550.7,534.5 548.9,534.5 547.0,534.5 545.1,534.5 543.3,534.4 541.4,534.4 539.6,534.3 537.7,534.1 535.9,533.8 534.0,532.2" fill="#0a0909" fill-opacity="0.12" filter="url(#b2)"/>
<polygon points="593.7,534.3 596.0,529.0 598.2,527.5 600.5,526.6 602.8,526.0 605.0,525.6 607.3,525.4 609.5,525.2 611.8,525.1 614.1,525.0 616.3,525.0 618.6,525.0 620.9,525.0 623.1,525.0 625.4,525.0 627.6,525.0 629.9,525.1 632.2,525.2 634.4,525.4 636.7,525.6 639.0,526.0 641.2,526.6 643.5,527.5 645.7,529.0 648.0,534.3 648.0,534.3 645.7,539.6 643.5,541.1 641.2,542.0 639.0,542.6 636.7,543.0 634.4,543.2 632.2,543.4 629.9,543.5 627.6,543.6 625.4,543.6 623.1,543.6 620.9,543.6 618.6,543.6 616.3,543.6 614.1,543.6 611.8,543.5 609.5,543.4 607.3,543.2 605.0,543.0 602.8,542.6 600.5,542.0 598.2,541.1 596.0,539.6 593.7,534.3" fill="#0a0909" fill-opacity="1.0" filter="url(#b2)"/>
<polygon points="598.6,549.9 600.4,548.4 602.3,548.2 604.1,548.1 606.0,548.0 607.8,548.1 609.7,548.1 611.5,548.2 613.4,548.3 615.2,548.4 617.1,548.4 618.9,548.5 620.8,548.6 622.6,548.7 624.4,548.8 626.3,548.9 628.1,548.9 630.0,549.0 631.8,549.1 633.7,549.2 635.5,549.4 637.4,549.6 639.2,549.8 641.1,550.2 642.9,551.9 642.9,551.9 641.1,553.4 639.2,553.6 637.4,553.7 635.5,553.8 633.7,553.7 631.8,553.7 630.0,553.6 628.1,553.5 626.3,553.4 624.4,553.4 622.6,553.3 620.8,553.2 618.9,553.1 617.1,553.0 615.2,552.9 613.4,552.9 611.5,552.8 609.7,552.7 607.8,552.6 606.0,552.4 604.1,552.2 602.3,552.0 600.4,551.6 598.6,549.9" fill="#0a0909" fill-opacity="0.62" filter="url(#b1)"/>
<polygon points="658.6,533.7 660.7,530.1 662.7,529.0 664.8,528.4 666.8,528.0 668.9,527.7 671.0,527.5 673.0,527.4 675.1,527.4 677.1,527.3 679.2,527.3 681.2,527.3 683.3,527.3 685.4,527.3 687.4,527.3 689.5,527.3 691.5,527.4 693.6,527.4 695.6,527.5 697.7,527.7 699.8,528.0 701.8,528.4 703.9,529.0 705.9,530.1 708.0,533.7 708.0,533.7 705.9,537.3 703.9,538.4 701.8,539.0 699.8,539.4 697.7,539.7 695.6,539.9 693.6,540.0 691.5,540.0 689.5,540.1 687.4,540.1 685.4,540.1 683.3,540.1 681.2,540.1 679.2,540.1 677.1,540.1 675.1,540.0 673.0,540.0 671.0,539.9 668.9,539.7 666.8,539.4 664.8,539.0 662.7,538.4 660.7,537.3 658.6,533.7" fill="#0a0909" fill-opacity="1.0" filter="url(#b2)"/>
<linearGradient id="g9" x1="0" x2="1" y1="0" y2="0"><stop offset="0" stop-color="#0a0909"/><stop offset=".35" stop-color="#0a0909" stop-opacity=".92"/><stop offset="1" stop-color="#0a0909" stop-opacity=".6"/></linearGradient>
<polygon points="721.4,535.0 723.5,530.8 725.6,529.8 727.6,529.2 729.7,528.7 731.8,528.4 733.9,528.2 736.0,527.9 738.1,527.7 740.1,527.5 742.2,527.3 744.3,527.2 746.4,527.0 748.5,526.8 750.6,526.6 752.6,526.4 754.7,526.2 756.8,526.0 758.9,525.9 761.0,525.8 763.1,525.7 765.1,525.7 767.2,525.8 769.3,526.3 771.4,529.0 771.4,529.0 769.3,532.2 767.2,533.2 765.1,533.8 763.1,534.3 761.0,534.7 758.9,535.1 756.8,535.5 754.7,535.8 752.6,536.1 750.6,536.4 748.5,536.7 746.4,537.0 744.3,537.3 742.2,537.7 740.1,538.0 738.1,538.3 736.0,538.6 733.9,538.8 731.8,539.1 729.7,539.3 727.6,539.3 725.6,539.2 723.5,538.7 721.4,535.0" fill="url(#g9)" fill-opacity="1.0" filter="url(#b2)"/>
<circle cx="485.7" cy="514.1" r="1.1" fill="#222"/><circle cx="720" cy="562.1" r="1" fill="#222"/>
<polygon points="405.7,603.0 408.0,600.8 410.3,600.2 412.6,599.9 414.9,599.7 417.1,599.6 419.4,599.5 421.7,599.6 424.0,599.7 426.3,599.9 428.6,600.1 430.9,600.3 433.1,600.3 435.4,600.2 437.7,600.0 440.0,599.7 442.3,599.4 444.6,599.2 446.9,599.0 449.2,598.9 451.5,599.0 453.7,599.2 456.0,599.6 458.3,600.4 460.6,604.0 460.6,604.0 458.3,607.5 456.0,608.2 453.7,608.5 451.5,608.7 449.2,608.6 446.9,608.5 444.6,608.3 442.3,607.9 440.0,607.5 437.7,607.2 435.4,606.9 433.1,606.7 430.9,606.6 428.6,606.7 426.3,606.8 424.0,607.0 421.7,607.0 419.4,607.0 417.1,606.8 414.9,606.6 412.6,606.3 410.3,605.9 408.0,605.3 405.7,603.0" fill="#0a0909" fill-opacity="1.0" filter="url(#b1)"/>
<polygon points="475.7,601.4 477.9,596.8 480.1,595.9 482.3,595.4 484.5,595.2 486.7,595.2 488.9,595.3 491.1,595.4 493.3,595.5 495.5,595.7 497.7,595.9 499.9,596.0 502.1,596.1 504.4,596.1 506.6,596.1 508.8,596.1 511.0,596.0 513.2,596.0 515.4,596.0 517.6,596.1 519.8,596.2 522.0,596.5 524.2,596.9 526.4,597.7 528.6,601.4 528.6,601.4 526.4,605.1 524.2,605.9 522.0,606.3 519.8,606.6 517.6,606.7 515.4,606.8 513.2,606.8 511.0,606.8 508.8,606.7 506.6,606.7 504.4,606.7 502.1,606.7 499.9,606.8 497.7,606.9 495.5,607.1 493.3,607.3 491.1,607.4 488.9,607.5 486.7,607.6 484.5,607.6 482.3,607.4 480.1,606.9 477.9,606.0 475.7,601.4" fill="#0a0909" fill-opacity="1.0" filter="url(#b1)"/>
<polygon points="540.6,601.0 543.0,596.1 545.3,595.0 547.7,594.5 550.0,594.2 552.4,594.0 554.7,593.9 557.1,593.8 559.4,593.8 561.8,593.8 564.1,593.8 566.5,593.8 568.9,593.8 571.2,593.8 573.6,593.8 575.9,593.8 578.3,593.8 580.6,593.8 583.0,593.9 585.3,594.0 587.7,594.2 590.0,594.5 592.4,595.0 594.7,596.1 597.1,601.0 597.1,601.0 594.7,605.9 592.4,607.0 590.0,607.5 587.7,607.8 585.3,608.0 583.0,608.1 580.6,608.2 578.3,608.2 575.9,608.2 573.6,608.2 571.2,608.2 568.9,608.2 566.5,608.2 564.1,608.2 561.8,608.2 559.4,608.2 557.1,608.2 554.7,608.1 552.4,608.0 550.0,607.8 547.7,607.5 545.3,607.0 543.0,605.9 540.6,601.0" fill="#0a0909" fill-opacity="1.0" filter="url(#b1)"/>
<polygon points="606.3,600.8 608.5,596.3 610.7,595.4 612.8,594.9 615.0,594.6 617.2,594.5 619.4,594.4 621.6,594.3 623.7,594.3 625.9,594.3 628.1,594.3 630.3,594.3 632.5,594.3 634.6,594.3 636.8,594.3 639.0,594.3 641.2,594.3 643.3,594.3 645.5,594.4 647.7,594.5 649.9,594.6 652.1,594.9 654.2,595.4 656.4,596.3 658.6,600.8 658.6,600.8 656.4,605.3 654.2,606.2 652.1,606.7 649.9,607.0 647.7,607.1 645.5,607.2 643.3,607.3 641.2,607.3 639.0,607.3 636.8,607.3 634.6,607.3 632.5,607.3 630.3,607.3 628.1,607.3 625.9,607.3 623.7,607.3 621.6,607.3 619.4,607.2 617.2,607.1 615.0,607.0 612.8,606.7 610.7,606.2 608.5,605.3 606.3,600.8" fill="#0a0909" fill-opacity="1.0" filter="url(#b1)"/>
<polygon points="670.0,600.7 672.1,596.9 674.3,596.1 676.4,595.6 678.6,595.4 680.7,595.3 682.9,595.3 685.0,595.3 687.1,595.3 689.3,595.4 691.4,595.5 693.6,595.5 695.7,595.6 697.8,595.7 700.0,595.8 702.1,595.9 704.3,596.0 706.4,596.1 708.5,596.2 710.7,596.4 712.8,596.6 715.0,596.9 717.1,597.3 719.3,598.0 721.4,600.7 721.4,600.7 719.3,603.4 717.1,604.1 715.0,604.5 712.8,604.8 710.7,605.0 708.5,605.2 706.4,605.3 704.3,605.4 702.1,605.5 700.0,605.6 697.8,605.7 695.7,605.8 693.6,605.9 691.4,605.9 689.3,606.0 687.1,606.1 685.0,606.1 682.9,606.1 680.7,606.1 678.6,606.0 676.4,605.8 674.3,605.3 672.1,604.5 670.0,600.7" fill="#0a0909" fill-opacity="1.0" filter="url(#b1)"/>
<linearGradient id="g5" x1="0" x2="1" y1="0" y2="0"><stop offset="0" stop-color="#0a0909" stop-opacity=".9"/><stop offset=".45" stop-color="#0a0909" stop-opacity=".55"/><stop offset="1" stop-color="#0a0909" stop-opacity=".15"/></linearGradient>
<polygon points="736.6,599.1 738.5,597.3 740.5,596.9 742.4,596.7 744.3,596.5 746.3,596.5 748.2,596.5 750.1,596.5 752.1,596.5 754.0,596.6 755.9,596.6 757.9,596.7 759.8,596.7 761.7,596.7 763.7,596.6 765.6,596.4 767.5,596.1 769.5,595.7 771.4,595.2 773.3,594.6 775.3,594.0 777.2,593.2 779.1,592.4 781.1,591.5 783.0,591.1 783.0,591.1 781.1,593.3 779.1,594.7 777.2,595.9 775.3,597.0 773.3,598.0 771.4,598.8 769.5,599.5 767.5,600.1 765.6,600.5 763.7,600.9 761.7,601.2 759.8,601.4 757.9,601.5 755.9,601.6 754.0,601.6 752.1,601.7 750.1,601.7 748.2,601.7 746.3,601.7 744.3,601.7 742.4,601.5 740.5,601.3 738.5,600.9 736.6,599.1" fill="url(#g5)" fill-opacity="1.0" filter="url(#b1)"/>
<path d="M211 587 Q222 591 238 587.5 L238 586.6 L211 586.6Z" fill="#0a0909" filter="url(#b1)"/>
<g fill="#1a1a1a" fill-opacity=".85"><circle cx="421.4" cy="618.4" r="1"/><circle cx="468.6" cy="632.1" r="1"/><circle cx="467.1" cy="639.9" r="1"/><circle cx="488.6" cy="642.7" r="1"/><circle cx="494.9" cy="642.7" r="1"/><circle cx="516.6" cy="623.0" r="1"/><circle cx="410.9" cy="650.7" r="1"/><circle cx="410.9" cy="659.9" r="1"/><circle cx="470.0" cy="656.4" r="1"/><circle cx="524.3" cy="657.0" r="1"/><circle cx="545.1" cy="655.6" r="1"/><circle cx="617.1" cy="629.3" r="1"/><circle cx="634.3" cy="646.4" r="1"/><circle cx="645.1" cy="644.4" r="1"/><circle cx="668.6" cy="641.6" r="1"/><circle cx="675.7" cy="646.4" r="1"/><circle cx="685.7" cy="616.4" r="1"/><circle cx="671.4" cy="624.1" r="1"/><circle cx="762.9" cy="632.1" r="1"/><circle cx="775.7" cy="657.0" r="1"/><circle cx="766.3" cy="662.7" r="1"/><circle cx="705.7" cy="665.6" r="1"/><circle cx="625.1" cy="661.6" r="1"/><circle cx="778.6" cy="599.3" r="1"/><circle cx="765.7" cy="600.7" r="1"/><circle cx="745.7" cy="590.1" r="1"/><circle cx="732.9" cy="593.0" r="1"/><circle cx="550.0" cy="593.6" r="1"/><circle cx="505.7" cy="590.1" r="1"/><circle cx="415.7" cy="609.9" r="1"/><circle cx="590.0" cy="610.7" r="1"/><circle cx="581.4" cy="613.6" r="1"/><circle cx="499.1" cy="609.9" r="1"/><circle cx="236" cy="599" r=".95"/><circle cx="225" cy="612" r=".95"/><circle cx="254" cy="636" r=".95"/><circle cx="232" cy="631" r=".95"/><circle cx="261" cy="617" r=".95"/><circle cx="285" cy="600" r=".95"/><circle cx="311" cy="600" r=".95"/><circle cx="322" cy="591" r=".95"/><circle cx="306" cy="626" r=".95"/><circle cx="319" cy="635" r=".95"/><circle cx="342" cy="643" r=".95"/><circle cx="328" cy="656" r=".95"/><circle cx="357" cy="620" r=".95"/><circle cx="375" cy="603" r=".95"/><circle cx="383" cy="613" r=".95"/><circle cx="391" cy="628" r=".95"/><circle cx="378" cy="646" r=".95"/><circle cx="250" cy="593" r=".95"/><circle cx="345" cy="626" r=".95"/><circle cx="300" cy="603" r=".95"/><circle cx="350.6" cy="630.3" r=".6" fill-opacity=".35"/><circle cx="426.4" cy="634.7" r=".6" fill-opacity=".35"/><circle cx="573.2" cy="594.8" r=".6" fill-opacity=".35"/><circle cx="221.6" cy="652.0" r=".6" fill-opacity=".35"/><circle cx="362.9" cy="607.3" r=".6" fill-opacity=".35"/><circle cx="785.5" cy="624.8" r=".6" fill-opacity=".35"/><circle cx="694.1" cy="625.3" r=".6" fill-opacity=".35"/><circle cx="580.8" cy="601.1" r=".6" fill-opacity=".35"/><circle cx="578.4" cy="654.2" r=".6" fill-opacity=".35"/><circle cx="514.3" cy="644.9" r=".6" fill-opacity=".35"/><circle cx="599.4" cy="594.7" r=".6" fill-opacity=".35"/><circle cx="649.2" cy="633.7" r=".6" fill-opacity=".35"/><circle cx="386.9" cy="592.3" r=".6" fill-opacity=".35"/><circle cx="710.8" cy="625.0" r=".6" fill-opacity=".35"/><circle cx="626.6" cy="655.0" r=".6" fill-opacity=".35"/><circle cx="623.9" cy="658.2" r=".6" fill-opacity=".35"/><circle cx="440.7" cy="649.3" r=".6" fill-opacity=".35"/><circle cx="469.2" cy="659.2" r=".6" fill-opacity=".35"/><circle cx="718.5" cy="597.2" r=".6" fill-opacity=".35"/><circle cx="292.0" cy="606.1" r=".6" fill-opacity=".35"/><circle cx="768.2" cy="622.3" r=".6" fill-opacity=".35"/><circle cx="573.7" cy="612.3" r=".6" fill-opacity=".35"/><circle cx="505.2" cy="618.6" r=".6" fill-opacity=".35"/><circle cx="415.4" cy="633.3" r=".6" fill-opacity=".35"/><circle cx="549.4" cy="656.9" r=".6" fill-opacity=".35"/><circle cx="605.5" cy="658.7" r=".6" fill-opacity=".35"/><circle cx="705.6" cy="663.3" r=".6" fill-opacity=".35"/><circle cx="599.3" cy="602.1" r=".6" fill-opacity=".35"/><circle cx="708.0" cy="661.4" r=".6" fill-opacity=".35"/><circle cx="733.3" cy="632.1" r=".6" fill-opacity=".35"/><circle cx="623.7" cy="605.6" r=".6" fill-opacity=".35"/><circle cx="691.3" cy="632.4" r=".6" fill-opacity=".35"/><circle cx="377.6" cy="594.7" r=".6" fill-opacity=".35"/><circle cx="704.2" cy="663.2" r=".6" fill-opacity=".35"/><circle cx="264.8" cy="649.2" r=".6" fill-opacity=".35"/><circle cx="449.6" cy="601.2" r=".6" fill-opacity=".35"/><circle cx="382.7" cy="646.9" r=".6" fill-opacity=".35"/><circle cx="715.0" cy="593.3" r=".6" fill-opacity=".35"/><circle cx="566.7" cy="593.3" r=".6" fill-opacity=".35"/><circle cx="626.4" cy="614.5" r=".6" fill-opacity=".35"/><circle cx="719.6" cy="662.6" r=".6" fill-opacity=".35"/><circle cx="504.1" cy="663.9" r=".6" fill-opacity=".35"/><circle cx="391.8" cy="595.7" r=".6" fill-opacity=".35"/><circle cx="558.3" cy="592.3" r=".6" fill-opacity=".35"/><circle cx="327.3" cy="620.2" r=".6" fill-opacity=".35"/></g>
<polygon points="218.3,717.4 220.4,714.0 222.5,713.3 224.6,713.0 226.7,712.9 228.8,712.8 230.9,712.8 233.1,712.9 235.2,713.0 237.3,713.1 239.4,713.2 241.5,713.4 243.6,713.5 245.7,713.6 247.8,713.8 249.9,713.9 252.0,714.1 254.1,714.2 256.2,714.4 258.4,714.7 260.5,715.0 262.6,715.4 264.7,716.0 266.8,716.9 268.9,720.6 268.9,720.6 266.8,724.0 264.7,724.7 262.6,725.0 260.5,725.1 258.4,725.2 256.2,725.2 254.1,725.1 252.0,725.0 249.9,724.9 247.8,724.8 245.7,724.6 243.6,724.5 241.5,724.4 239.4,724.2 237.3,724.1 235.2,723.9 233.1,723.8 230.9,723.6 228.8,723.3 226.7,723.0 224.6,722.6 222.5,722.0 220.4,721.1 218.3,717.4" fill="#0a0909" fill-opacity="1.0" filter="url(#b1)"/>
<polygon points="284.3,722.5 286.2,719.2 288.0,718.5 289.9,718.1 291.7,717.9 293.6,717.9 295.4,717.9 297.3,718.1 299.2,718.3 301.0,718.5 302.9,718.7 304.7,718.9 306.6,718.9 308.5,718.9 310.3,718.7 312.2,718.5 314.0,718.3 315.9,718.1 317.8,717.9 319.6,717.9 321.5,717.9 323.3,718.1 325.2,718.5 327.0,719.2 328.9,722.5 328.9,722.5 327.0,725.7 325.2,726.4 323.3,726.8 321.5,727.0 319.6,727.0 317.8,727.0 315.9,726.8 314.0,726.6 312.2,726.4 310.3,726.2 308.5,726.0 306.6,726.0 304.7,726.0 302.9,726.2 301.0,726.4 299.2,726.6 297.3,726.8 295.4,727.0 293.6,727.0 291.7,727.0 289.9,726.8 288.0,726.4 286.2,725.7 284.3,722.5" fill="#0a0909" fill-opacity="1.0" filter="url(#b1)"/>
<polygon points="344.7,722.5 346.5,719.2 348.3,718.5 350.1,718.1 351.9,717.9 353.8,717.9 355.6,717.9 357.4,718.1 359.2,718.3 361.0,718.5 362.8,718.7 364.6,718.9 366.4,718.9 368.3,718.9 370.1,718.7 371.9,718.5 373.7,718.3 375.5,718.1 377.3,717.9 379.1,717.9 380.9,717.9 382.8,718.1 384.6,718.5 386.4,719.2 388.2,722.5 388.2,722.5 386.4,725.7 384.6,726.4 382.8,726.8 380.9,727.0 379.1,727.0 377.3,727.0 375.5,726.8 373.7,726.6 371.9,726.4 370.1,726.2 368.3,726.0 366.4,726.0 364.6,726.0 362.8,726.2 361.0,726.4 359.2,726.6 357.4,726.8 355.6,727.0 353.8,727.0 351.9,727.0 350.1,726.8 348.3,726.4 346.5,725.7 344.7,722.5" fill="#0a0909" fill-opacity="1.0" filter="url(#b1)"/>
<polygon points="406.4,724.1 408.3,722.3 410.1,721.9 412.0,721.6 413.9,721.5 415.8,721.5 417.6,721.5 419.5,721.6 421.4,721.8 423.3,722.0 425.1,722.2 427.0,722.4 428.9,722.4 430.8,722.4 432.6,722.2 434.5,722.0 436.4,721.8 438.3,721.6 440.1,721.5 442.0,721.5 443.9,721.5 445.8,721.6 447.6,721.9 449.5,722.3 451.4,724.1 451.4,724.1 449.5,726.0 447.6,726.4 445.8,726.7 443.9,726.8 442.0,726.8 440.1,726.8 438.3,726.7 436.4,726.5 434.5,726.3 432.6,726.1 430.8,725.9 428.9,725.9 427.0,725.9 425.1,726.1 423.3,726.3 421.4,726.5 419.5,726.7 417.6,726.8 415.8,726.8 413.9,726.8 412.0,726.7 410.1,726.4 408.3,726.0 406.4,724.1" fill="#0a0909" fill-opacity="0.9" filter="url(#b1)"/>
<polygon points="469.0,723.6 471.0,720.6 472.9,720.0 474.9,719.6 476.8,719.5 478.8,719.4 480.8,719.4 482.7,719.4 484.7,719.5 486.6,719.6 488.6,719.7 490.5,719.8 492.5,719.9 494.5,719.9 496.4,719.9 498.4,719.9 500.3,719.9 502.3,719.8 504.2,719.9 506.2,720.0 508.2,720.1 510.1,720.4 512.1,720.8 514.0,721.5 516.0,724.6 516.0,724.6 514.0,727.6 512.1,728.2 510.1,728.6 508.2,728.7 506.2,728.8 504.2,728.8 502.3,728.8 500.3,728.7 498.4,728.6 496.4,728.5 494.5,728.4 492.5,728.3 490.5,728.3 488.6,728.3 486.6,728.3 484.7,728.3 482.7,728.4 480.8,728.3 478.8,728.2 476.8,728.1 474.9,727.8 472.9,727.4 471.0,726.7 469.0,723.6" fill="#0a0909" fill-opacity="1.0" filter="url(#b1)"/>
<polygon points="532.1,724.8 534.0,722.0 535.9,721.3 537.9,721.0 539.8,720.8 541.7,720.7 543.6,720.6 545.5,720.7 547.5,720.8 549.4,720.9 551.3,721.0 553.2,721.1 555.2,721.1 557.1,721.0 559.0,720.8 560.9,720.7 562.8,720.5 564.8,720.3 566.7,720.1 568.6,720.1 570.5,720.1 572.4,720.2 574.4,720.5 576.3,721.1 578.2,723.8 578.2,723.8 576.3,726.6 574.4,727.3 572.4,727.6 570.5,727.8 568.6,727.9 566.7,728.0 564.8,727.9 562.8,727.8 560.9,727.7 559.0,727.6 557.1,727.5 555.2,727.5 553.2,727.6 551.3,727.8 549.4,727.9 547.5,728.1 545.5,728.3 543.6,728.5 541.7,728.5 539.8,728.5 537.9,728.4 535.9,728.1 534.0,727.5 532.1,724.8" fill="#0a0909" fill-opacity="1.0" filter="url(#b1)"/>
<polygon points="596.4,723.0 598.1,721.6 599.9,721.3 601.6,721.1 603.4,721.0 605.1,721.0 606.9,721.1 608.6,721.2 610.3,721.4 612.1,721.6 613.8,721.7 615.6,721.9 617.3,721.9 619.0,721.9 620.8,721.7 622.5,721.6 624.3,721.4 626.0,721.2 627.8,721.1 629.5,721.0 631.2,721.0 633.0,721.1 634.7,721.3 636.5,721.6 638.2,723.0 638.2,723.0 636.5,724.4 634.7,724.7 633.0,724.9 631.2,725.0 629.5,725.0 627.8,724.9 626.0,724.8 624.3,724.6 622.5,724.4 620.8,724.3 619.0,724.1 617.3,724.1 615.6,724.1 613.8,724.3 612.1,724.4 610.3,724.6 608.6,724.8 606.9,724.9 605.1,725.0 603.4,725.0 601.6,724.9 599.9,724.7 598.1,724.4 596.4,723.0" fill="#0a0909" fill-opacity="0.62" filter="url(#b1)"/>
<polygon points="658.6,721.8 660.3,720.8 662.1,720.6 663.8,720.4 665.6,720.4 667.3,720.3 669.0,720.3 670.8,720.3 672.5,720.3 674.3,720.3 676.0,720.3 677.8,720.3 679.5,720.3 681.2,720.3 683.0,720.3 684.7,720.3 686.5,720.3 688.2,720.3 690.0,720.3 691.7,720.3 693.4,720.4 695.2,720.4 696.9,720.6 698.7,720.8 700.4,721.8 700.4,721.8 698.7,722.9 696.9,723.1 695.2,723.3 693.4,723.3 691.7,723.4 690.0,723.4 688.2,723.4 686.5,723.4 684.7,723.4 683.0,723.4 681.2,723.4 679.5,723.4 677.8,723.4 676.0,723.4 674.3,723.4 672.5,723.4 670.8,723.4 669.0,723.4 667.3,723.4 665.6,723.3 663.8,723.3 662.1,723.1 660.3,722.9 658.6,721.8" fill="#0a0909" fill-opacity="0.12" filter="url(#b1)"/>
<polygon points="688.0,721.7 688.5,720.7 689.0,720.5 689.5,720.3 690.0,720.3 690.5,720.2 691.0,720.2 691.5,720.2 692.0,720.2 692.5,720.2 693.0,720.2 693.5,720.2 694.0,720.2 694.5,720.2 695.0,720.2 695.5,720.2 696.0,720.2 696.5,720.2 697.0,720.2 697.5,720.2 698.0,720.3 698.5,720.3 699.0,720.5 699.5,720.7 700.0,721.7 700.0,721.7 699.5,722.7 699.0,722.9 698.5,723.1 698.0,723.1 697.5,723.2 697.0,723.2 696.5,723.2 696.0,723.2 695.5,723.2 695.0,723.2 694.5,723.2 694.0,723.2 693.5,723.2 693.0,723.2 692.5,723.2 692.0,723.2 691.5,723.2 691.0,723.2 690.5,723.2 690.0,723.1 689.5,723.1 689.0,722.9 688.5,722.7 688.0,721.7" fill="#0a0909" fill-opacity="0.18" filter="url(#b1)"/>
<polygon points="722.9,722.3 724.9,721.2 726.8,720.9 728.8,720.7 730.8,720.6 732.7,720.5 734.7,720.5 736.6,720.4 738.6,720.4 740.6,720.3 742.5,720.3 744.5,720.2 746.5,720.2 748.4,720.2 750.4,720.1 752.3,720.1 754.3,720.0 756.3,720.0 758.2,720.0 760.2,719.9 762.1,719.9 764.1,720.0 766.1,720.1 768.0,720.2 770.0,721.3 770.0,721.3 768.0,722.4 766.1,722.7 764.1,722.9 762.1,723.0 760.2,723.1 758.2,723.1 756.3,723.2 754.3,723.2 752.3,723.3 750.4,723.3 748.4,723.4 746.5,723.4 744.5,723.4 742.5,723.5 740.6,723.5 738.6,723.6 736.6,723.6 734.7,723.6 732.7,723.7 730.8,723.7 728.8,723.6 726.8,723.5 724.9,723.4 722.9,722.3" fill="#0a0909" fill-opacity="0.12" filter="url(#b1)"/>
<polygon points="755.0,721.1 755.6,720.1 756.2,719.9 756.9,719.7 757.5,719.7 758.1,719.6 758.8,719.6 759.4,719.6 760.0,719.6 760.6,719.6 761.2,719.6 761.9,719.6 762.5,719.6 763.1,719.6 763.8,719.6 764.4,719.6 765.0,719.6 765.6,719.6 766.2,719.6 766.9,719.6 767.5,719.7 768.1,719.7 768.8,719.9 769.4,720.1 770.0,721.1 770.0,721.1 769.4,722.1 768.8,722.3 768.1,722.5 767.5,722.5 766.9,722.6 766.2,722.6 765.6,722.6 765.0,722.6 764.4,722.6 763.8,722.6 763.1,722.6 762.5,722.6 761.9,722.6 761.2,722.6 760.6,722.6 760.0,722.6 759.4,722.6 758.8,722.6 758.1,722.6 757.5,722.5 756.9,722.5 756.2,722.3 755.6,722.1 755.0,721.1" fill="#0a0909" fill-opacity="0.22" filter="url(#b1)"/>
<polygon points="213.1,813.6 215.4,810.5 217.8,809.8 220.1,809.3 222.5,809.1 224.8,808.9 227.2,808.9 229.5,808.9 231.8,809.0 234.2,809.1 236.5,809.2 238.9,809.4 241.2,809.5 243.5,809.6 245.9,809.8 248.2,810.0 250.6,810.1 252.9,810.4 255.2,810.6 257.6,811.0 259.9,811.4 262.3,812.0 264.6,812.7 267.0,813.7 269.3,817.1 269.3,817.1 267.0,820.8 264.6,822.0 262.3,822.9 259.9,823.5 257.6,824.0 255.2,824.3 252.9,824.5 250.6,824.7 248.2,824.7 245.9,824.7 243.5,824.6 241.2,824.5 238.9,824.3 236.5,824.1 234.2,823.8 231.8,823.5 229.5,823.1 227.2,822.6 224.8,821.9 222.5,821.2 220.1,820.2 217.8,819.1 215.4,817.6 213.1,813.6" fill="#0a0909" fill-opacity="1.0" filter="url(#b2)"/>
<polygon points="282.6,816.1 284.7,813.2 286.7,812.5 288.8,812.0 290.8,811.7 292.9,811.5 294.9,811.4 297.0,811.3 299.0,811.3 301.1,811.3 303.1,811.4 305.2,811.4 307.2,811.5 309.3,811.6 311.4,811.6 313.4,811.7 315.5,811.8 317.5,811.9 319.6,812.1 321.6,812.4 323.7,812.7 325.7,813.1 327.8,813.7 329.8,814.6 331.9,817.6 331.9,817.6 329.8,821.1 327.8,822.3 325.7,823.2 323.7,823.9 321.6,824.4 319.6,824.8 317.5,825.1 315.5,825.3 313.4,825.5 311.4,825.5 309.3,825.5 307.2,825.5 305.2,825.4 303.1,825.3 301.1,825.1 299.0,824.8 297.0,824.5 294.9,824.1 292.9,823.5 290.8,822.9 288.8,822.1 286.7,821.1 284.7,819.7 282.6,816.1" fill="#0a0909" fill-opacity="1.0" filter="url(#b2)"/>
<polygon points="343.9,817.5 346.1,814.1 348.4,813.2 350.6,812.7 352.9,812.4 355.1,812.2 357.4,812.1 359.6,812.1 361.9,812.1 364.1,812.1 366.4,812.1 368.6,812.1 370.9,812.1 373.1,812.1 375.4,812.1 377.6,812.1 379.9,812.1 382.1,812.1 384.4,812.1 386.6,812.2 388.9,812.4 391.1,812.7 393.4,813.2 395.6,814.1 397.9,817.5 397.9,817.5 395.6,821.6 393.4,823.1 391.1,824.1 388.9,824.9 386.6,825.5 384.4,826.0 382.1,826.4 379.9,826.7 377.6,826.9 375.4,827.0 373.1,827.1 370.9,827.1 368.6,827.1 366.4,827.0 364.1,826.9 361.9,826.7 359.6,826.4 357.4,826.0 355.1,825.5 352.9,824.9 350.6,824.1 348.4,823.1 346.1,821.6 343.9,817.5" fill="#0a0909" fill-opacity="1.0" filter="url(#b2)"/>
<polygon points="405.4,818.0 407.8,813.8 410.2,812.7 412.6,812.0 415.0,811.6 417.4,811.4 419.8,811.2 422.3,811.2 424.7,811.2 427.1,811.2 429.5,811.3 431.9,811.4 434.3,811.5 436.7,811.6 439.1,811.7 441.5,811.8 443.9,812.0 446.3,812.2 448.8,812.5 451.2,812.8 453.6,813.3 456.0,813.9 458.4,814.8 460.8,816.1 463.2,820.5 463.2,820.5 460.8,825.3 458.4,826.9 456.0,828.0 453.6,828.8 451.2,829.3 448.8,829.8 446.3,830.1 443.9,830.3 441.5,830.4 439.1,830.4 436.7,830.4 434.3,830.3 431.9,830.2 429.5,830.0 427.1,829.8 424.7,829.4 422.3,829.0 419.8,828.5 417.4,827.9 415.0,827.1 412.6,826.1 410.2,824.8 407.8,823.0 405.4,818.0" fill="#0a0909" fill-opacity="1.0" filter="url(#b2)"/>
<polygon points="471.8,819.1 474.1,815.1 476.4,814.1 478.8,813.4 481.1,813.0 483.4,812.7 485.7,812.5 488.0,812.5 490.3,812.4 492.6,812.4 495.0,812.5 497.3,812.5 499.6,812.6 501.9,812.7 504.2,812.7 506.6,812.8 508.9,812.9 511.2,813.1 513.5,813.3 515.8,813.6 518.1,814.0 520.4,814.5 522.8,815.3 525.1,816.5 527.4,820.6 527.4,820.6 525.1,825.1 522.8,826.6 520.4,827.7 518.1,828.5 515.8,829.1 513.5,829.6 511.2,829.9 508.9,830.1 506.6,830.3 504.2,830.3 501.9,830.3 499.6,830.3 497.3,830.2 495.0,830.1 492.6,829.9 490.3,829.6 488.0,829.3 485.7,828.8 483.4,828.2 481.1,827.5 478.8,826.6 476.4,825.4 474.1,823.7 471.8,819.1" fill="#0a0909" fill-opacity="1.0" filter="url(#b2)"/>
<polygon points="536.4,823.9 538.7,819.7 541.0,818.6 543.3,817.8 545.6,817.3 547.9,817.0 550.2,816.7 552.5,816.6 554.8,816.5 557.1,816.4 559.4,816.4 561.7,816.4 564.0,816.4 566.4,816.4 568.7,816.4 571.0,816.4 573.3,816.5 575.6,816.6 577.9,816.7 580.2,817.0 582.5,817.3 584.8,817.8 587.1,818.6 589.4,819.7 591.7,823.9 591.7,823.9 589.4,828.6 587.1,830.2 584.8,831.4 582.5,832.3 580.2,832.9 577.9,833.5 575.6,833.9 573.3,834.2 571.0,834.4 568.7,834.5 566.4,834.6 564.0,834.6 561.7,834.6 559.4,834.5 557.1,834.4 554.8,834.2 552.5,833.9 550.2,833.5 547.9,832.9 545.6,832.3 543.3,831.4 541.0,830.2 538.7,828.6 536.4,823.9" fill="#0a0909" fill-opacity="1.0" filter="url(#b2)"/>
<polygon points="597.5,824.1 600.0,819.9 602.5,818.7 605.0,817.8 607.5,817.2 610.0,816.8 612.5,816.5 615.0,816.2 617.5,816.0 620.0,815.8 622.5,815.7 625.0,815.6 627.5,815.5 630.0,815.4 632.5,815.3 635.0,815.2 637.5,815.2 640.0,815.2 642.5,815.2 645.0,815.3 647.5,815.6 650.0,816.0 652.5,816.6 655.0,817.6 657.5,821.6 657.5,821.6 655.0,826.4 652.5,828.1 650.0,829.4 647.5,830.3 645.0,831.1 642.5,831.7 640.0,832.3 637.5,832.6 635.0,833.0 632.5,833.2 630.0,833.4 627.5,833.5 625.0,833.6 622.5,833.6 620.0,833.6 617.5,833.5 615.0,833.3 612.5,833.0 610.0,832.6 607.5,832.0 605.0,831.2 602.5,830.2 600.0,828.7 597.5,824.1" fill="#0a0909" fill-opacity="1.0" filter="url(#b2)"/>
<polygon points="664.6,820.5 667.0,816.6 669.4,815.6 671.8,815.0 674.1,814.7 676.5,814.5 678.9,814.3 681.3,814.3 683.7,814.3 686.0,814.3 688.4,814.3 690.8,814.3 693.2,814.3 695.6,814.3 698.0,814.3 700.4,814.3 702.7,814.3 705.1,814.3 707.5,814.3 709.9,814.5 712.3,814.7 714.6,815.0 717.0,815.6 719.4,816.6 721.8,820.5 721.8,820.5 719.4,824.9 717.0,826.2 714.6,827.2 712.3,827.8 709.9,828.3 707.5,828.7 705.1,829.0 702.7,829.1 700.4,829.3 698.0,829.3 695.6,829.4 693.2,829.4 690.8,829.4 688.4,829.3 686.0,829.3 683.7,829.1 681.3,829.0 678.9,828.7 676.5,828.3 674.1,827.8 671.8,827.2 669.4,826.2 667.0,824.9 664.6,820.5" fill="#0a0909" fill-opacity="1.0" filter="url(#b2)"/>
<path d="M729.5 821 Q729 815.5 736 815.2 Q757 815 772 806.5 Q781 801 786 796.5 Q790 795.5 791.5 799 Q792.5 810 783 817.5 Q765 827 745 828.2 Q731 828.5 729.5 821Z" fill="#0a0909" filter="url(#b2)"/>
<polygon points="216.0,790.1 218.1,789.1 220.2,788.9 222.2,788.7 224.3,788.7 226.4,788.6 228.5,788.6 230.6,788.6 232.7,788.6 234.8,788.6 236.8,788.6 238.9,788.6 241.0,788.6 243.1,788.6 245.2,788.6 247.2,788.6 249.3,788.6 251.4,788.6 253.5,788.6 255.6,788.6 257.7,788.7 259.8,788.7 261.8,788.9 263.9,789.1 266.0,790.1 266.0,790.1 263.9,791.1 261.8,791.3 259.8,791.5 257.7,791.5 255.6,791.6 253.5,791.6 251.4,791.6 249.3,791.6 247.2,791.6 245.2,791.6 243.1,791.6 241.0,791.6 238.9,791.6 236.8,791.6 234.8,791.6 232.7,791.6 230.6,791.6 228.5,791.6 226.4,791.6 224.3,791.5 222.2,791.5 220.2,791.3 218.1,791.1 216.0,790.1" fill="#0a0909" fill-opacity="0.06" filter="url(#b1)"/>
<polygon points="286.0,790.1 287.8,789.1 289.7,788.9 291.5,788.7 293.3,788.7 295.2,788.6 297.0,788.6 298.8,788.6 300.7,788.6 302.5,788.6 304.3,788.6 306.2,788.6 308.0,788.6 309.8,788.6 311.7,788.6 313.5,788.6 315.3,788.6 317.2,788.6 319.0,788.6 320.8,788.6 322.7,788.7 324.5,788.7 326.3,788.9 328.2,789.1 330.0,790.1 330.0,790.1 328.2,791.1 326.3,791.3 324.5,791.5 322.7,791.5 320.8,791.6 319.0,791.6 317.2,791.6 315.3,791.6 313.5,791.6 311.7,791.6 309.8,791.6 308.0,791.6 306.2,791.6 304.3,791.6 302.5,791.6 300.7,791.6 298.8,791.6 297.0,791.6 295.2,791.6 293.3,791.5 291.5,791.5 289.7,791.3 287.8,791.1 286.0,790.1" fill="#0a0909" fill-opacity="0.06" filter="url(#b1)"/>
<polygon points="347.0,790.1 349.0,789.1 351.0,788.9 353.0,788.7 355.0,788.7 357.0,788.6 359.0,788.6 361.0,788.6 363.0,788.6 365.0,788.6 367.0,788.6 369.0,788.6 371.0,788.6 373.0,788.6 375.0,788.6 377.0,788.6 379.0,788.6 381.0,788.6 383.0,788.6 385.0,788.6 387.0,788.7 389.0,788.7 391.0,788.9 393.0,789.1 395.0,790.1 395.0,790.1 393.0,791.1 391.0,791.3 389.0,791.5 387.0,791.5 385.0,791.6 383.0,791.6 381.0,791.6 379.0,791.6 377.0,791.6 375.0,791.6 373.0,791.6 371.0,791.6 369.0,791.6 367.0,791.6 365.0,791.6 363.0,791.6 361.0,791.6 359.0,791.6 357.0,791.6 355.0,791.5 353.0,791.5 351.0,791.3 349.0,791.1 347.0,790.1" fill="#0a0909" fill-opacity="0.06" filter="url(#b1)"/>
<polygon points="410.0,790.1 412.0,789.1 414.0,788.9 416.0,788.7 418.0,788.7 420.0,788.6 422.0,788.6 424.0,788.6 426.0,788.6 428.0,788.6 430.0,788.6 432.0,788.6 434.0,788.6 436.0,788.6 438.0,788.6 440.0,788.6 442.0,788.6 444.0,788.6 446.0,788.6 448.0,788.6 450.0,788.7 452.0,788.7 454.0,788.9 456.0,789.1 458.0,790.1 458.0,790.1 456.0,791.1 454.0,791.3 452.0,791.5 450.0,791.5 448.0,791.6 446.0,791.6 444.0,791.6 442.0,791.6 440.0,791.6 438.0,791.6 436.0,791.6 434.0,791.6 432.0,791.6 430.0,791.6 428.0,791.6 426.0,791.6 424.0,791.6 422.0,791.6 420.0,791.6 418.0,791.5 416.0,791.5 414.0,791.3 412.0,791.1 410.0,790.1" fill="#0a0909" fill-opacity="0.06" filter="url(#b1)"/>
<polygon points="475.0,790.1 477.0,789.1 479.0,788.9 481.0,788.7 483.0,788.7 485.0,788.6 487.0,788.6 489.0,788.6 491.0,788.6 493.0,788.6 495.0,788.6 497.0,788.6 499.0,788.6 501.0,788.6 503.0,788.6 505.0,788.6 507.0,788.6 509.0,788.6 511.0,788.6 513.0,788.6 515.0,788.7 517.0,788.7 519.0,788.9 521.0,789.1 523.0,790.1 523.0,790.1 521.0,791.1 519.0,791.3 517.0,791.5 515.0,791.5 513.0,791.6 511.0,791.6 509.0,791.6 507.0,791.6 505.0,791.6 503.0,791.6 501.0,791.6 499.0,791.6 497.0,791.6 495.0,791.6 493.0,791.6 491.0,791.6 489.0,791.6 487.0,791.6 485.0,791.6 483.0,791.5 481.0,791.5 479.0,791.3 477.0,791.1 475.0,790.1" fill="#0a0909" fill-opacity="0.06" filter="url(#b1)"/>
<polygon points="540.0,808.0 542.0,804.6 544.0,803.8 546.0,803.5 548.0,803.2 550.0,803.1 552.0,803.1 554.0,803.0 556.0,803.0 558.0,803.0 560.0,803.0 562.0,803.0 564.0,803.0 566.0,803.0 568.0,803.0 570.0,803.0 572.0,803.0 574.0,803.0 576.0,803.1 578.0,803.1 580.0,803.2 582.0,803.5 584.0,803.8 586.0,804.6 588.0,808.0 588.0,808.0 586.0,811.4 584.0,812.2 582.0,812.5 580.0,812.8 578.0,812.9 576.0,812.9 574.0,813.0 572.0,813.0 570.0,813.0 568.0,813.0 566.0,813.0 564.0,813.0 562.0,813.0 560.0,813.0 558.0,813.0 556.0,813.0 554.0,813.0 552.0,812.9 550.0,812.9 548.0,812.8 546.0,812.5 544.0,812.2 542.0,811.4 540.0,808.0" fill="#0a0909" fill-opacity="0.04" filter="url(#b3)"/>
<polygon points="600.0,808.0 602.2,804.6 604.5,803.8 606.8,803.5 609.0,803.2 611.2,803.1 613.5,803.1 615.8,803.0 618.0,803.0 620.2,803.0 622.5,803.0 624.8,803.0 627.0,803.0 629.2,803.0 631.5,803.0 633.8,803.0 636.0,803.0 638.2,803.0 640.5,803.1 642.8,803.1 645.0,803.2 647.2,803.5 649.5,803.8 651.8,804.6 654.0,808.0 654.0,808.0 651.8,811.4 649.5,812.2 647.2,812.5 645.0,812.8 642.8,812.9 640.5,812.9 638.2,813.0 636.0,813.0 633.8,813.0 631.5,813.0 629.2,813.0 627.0,813.0 624.8,813.0 622.5,813.0 620.2,813.0 618.0,813.0 615.8,813.0 613.5,812.9 611.2,812.9 609.0,812.8 606.8,812.5 604.5,812.2 602.2,811.4 600.0,808.0" fill="#0a0909" fill-opacity="0.04" filter="url(#b3)"/>
<polygon points="668.0,808.0 670.1,804.6 672.2,803.8 674.2,803.5 676.3,803.2 678.4,803.1 680.5,803.1 682.6,803.0 684.7,803.0 686.8,803.0 688.8,803.0 690.9,803.0 693.0,803.0 695.1,803.0 697.2,803.0 699.2,803.0 701.3,803.0 703.4,803.0 705.5,803.1 707.6,803.1 709.7,803.2 711.8,803.5 713.8,803.8 715.9,804.6 718.0,808.0 718.0,808.0 715.9,811.4 713.8,812.2 711.8,812.5 709.7,812.8 707.6,812.9 705.5,812.9 703.4,813.0 701.3,813.0 699.2,813.0 697.2,813.0 695.1,813.0 693.0,813.0 690.9,813.0 688.8,813.0 686.8,813.0 684.7,813.0 682.6,813.0 680.5,812.9 678.4,812.9 676.3,812.8 674.2,812.5 672.2,812.2 670.1,811.4 668.0,808.0" fill="#0a0909" fill-opacity="0.04" filter="url(#b3)"/>
<polygon points="734.0,808.0 735.5,804.6 737.0,803.8 738.5,803.5 740.0,803.2 741.5,803.1 743.0,803.1 744.5,803.0 746.0,803.0 747.5,803.0 749.0,803.0 750.5,803.0 752.0,803.0 753.5,803.0 755.0,803.0 756.5,803.0 758.0,803.0 759.5,803.0 761.0,803.1 762.5,803.1 764.0,803.2 765.5,803.5 767.0,803.8 768.5,804.6 770.0,808.0 770.0,808.0 768.5,811.4 767.0,812.2 765.5,812.5 764.0,812.8 762.5,812.9 761.0,812.9 759.5,813.0 758.0,813.0 756.5,813.0 755.0,813.0 753.5,813.0 752.0,813.0 750.5,813.0 749.0,813.0 747.5,813.0 746.0,813.0 744.5,813.0 743.0,812.9 741.5,812.9 740.0,812.8 738.5,812.5 737.0,812.2 735.5,811.4 734.0,808.0" fill="#0a0909" fill-opacity="0.04" filter="url(#b3)"/>
<circle cx="328.2" cy="829.3" r="1.2" fill="#555"/>
</g>
<rect x="210.0" y="196.4" width="582.0" height="81.1" fill="none" stroke="#1c1412" stroke-width="2.3"/>
<rect x="210.0" y="290.5" width="582.0" height="81.5" fill="none" stroke="#1c1412" stroke-width="2.3"/>
<rect x="210.0" y="394.0" width="582.0" height="81.4" fill="none" stroke="#1c1412" stroke-width="2.3"/>
<rect x="210.0" y="489.8" width="582.0" height="81.7" fill="none" stroke="#1c1412" stroke-width="2.3"/>
<rect x="210.0" y="585.6" width="582.0" height="82.1" fill="none" stroke="#1c1412" stroke-width="2.3"/>
<rect x="210.0" y="680.3" width="582.0" height="82.0" fill="none" stroke="#1c1412" stroke-width="2.3"/>
<rect x="210.0" y="775.3" width="582.0" height="81.7" fill="none" stroke="#1c1412" stroke-width="2.3"/>
</g>
<g id="panelB">
<line x1="223.7" y1="996.5" x2="223.7" y2="1371.9" stroke-width="3.8" stroke-linecap="butt"/>
<line x1="223.7" y1="1370.0" x2="723.0" y2="1370.0" stroke-width="3.8" stroke-linecap="butt"/>
<line x1="223.7" y1="998.2" x2="232.7" y2="998.2" stroke-width="3.4" stroke-linecap="butt"/>
<text x="166.5" y="1011.2" font-size="28.5">120</text>
<line x1="223.7" y1="1060.2" x2="232.7" y2="1060.2" stroke-width="3.4" stroke-linecap="butt"/>
<text x="166.5" y="1068.1" font-size="28.5">100</text>
<line x1="223.7" y1="1122.1" x2="232.7" y2="1122.1" stroke-width="3.4" stroke-linecap="butt"/>
<text x="165.0" y="1132.4" font-size="28.5">80</text>
<line x1="223.7" y1="1184.1" x2="232.7" y2="1184.1" stroke-width="3.4" stroke-linecap="butt"/>
<text x="165.0" y="1191.4" font-size="28.5">60</text>
<line x1="223.7" y1="1246.1" x2="232.7" y2="1246.1" stroke-width="3.4" stroke-linecap="butt"/>
<text x="165.0" y="1258.6" font-size="28.5">40</text>
<line x1="223.7" y1="1308.0" x2="232.7" y2="1308.0" stroke-width="3.4" stroke-linecap="butt"/>
<text x="165.0" y="1320.9" font-size="28.5">20</text>
<line x1="223.7" y1="1370.0" x2="232.7" y2="1370.0" stroke-width="3.4" stroke-linecap="butt"/>
<text x="165.0" y="1377.2" font-size="28.5">0</text>
<line x1="285.9" y1="1370.0" x2="285.9" y2="1361.8" stroke-width="3.6" stroke-linecap="butt"/>
<line x1="348.1" y1="1370.0" x2="348.1" y2="1361.8" stroke-width="3.6" stroke-linecap="butt"/>
<line x1="410.3" y1="1370.0" x2="410.3" y2="1361.8" stroke-width="3.6" stroke-linecap="butt"/>
<line x1="472.5" y1="1370.0" x2="472.5" y2="1361.8" stroke-width="3.6" stroke-linecap="butt"/>
<line x1="534.7" y1="1370.0" x2="534.7" y2="1361.8" stroke-width="3.6" stroke-linecap="butt"/>
<line x1="596.9" y1="1370.0" x2="596.9" y2="1361.8" stroke-width="3.6" stroke-linecap="butt"/>
<line x1="659.1" y1="1370.0" x2="659.1" y2="1361.8" stroke-width="3.6" stroke-linecap="butt"/>
<line x1="721.3" y1="1370.0" x2="721.3" y2="1361.8" stroke-width="3.6" stroke-linecap="butt"/>
<text x="258.3" y="1418.6" font-size="32.5" text-anchor="middle">0</text>
<text x="320.0" y="1418.6" font-size="32.5" text-anchor="middle">0.01</text>
<text x="390.4" y="1418.6" font-size="32.5" text-anchor="middle">0.05</text>
<text x="457.5" y="1418.6" font-size="32.5" text-anchor="middle">0.1</text>
<text x="510.3" y="1418.6" font-size="32.5" text-anchor="middle">0.5</text>
<text x="570.7" y="1418.6" font-size="32.5" text-anchor="middle">1.0</text>
<text x="629.2" y="1418.6" font-size="32.5" text-anchor="middle">2.5</text>
<text x="698.0" y="1418.6" font-size="32.5" text-anchor="middle">5.0</text>
<text x="734.0" y="1418.2" font-size="26" textLength="40.5" lengthAdjust="spacingAndGlyphs">μM</text>
<text y="1465.7" font-size="33.5"><tspan x="336.5" textLength="171.5" lengthAdjust="spacingAndGlyphs">Cinobufagin</tspan> <tspan x="517.5" font-size="33">(</tspan><tspan x="527.2" font-size="25.5" textLength="40" lengthAdjust="spacingAndGlyphs">μM</tspan><tspan x="566.3" font-size="33">)</tspan></text>
<text x="142.2" y="1363.0" font-size="30.5" textLength="365.0" lengthAdjust="spacingAndGlyphs" transform="rotate(-90 142.2 1363.0)">Cell proliferation (% of control)</text>
<line x1="253.8" y1="1061.0" x2="253.8" y2="1031.5" stroke-width="2.4" stroke-linecap="butt"/>
<line x1="247.8" y1="1031.5" x2="259.8" y2="1031.5" stroke-width="2.4" stroke-linecap="butt"/>
<line x1="253.8" y1="1061.0" x2="253.8" y2="1037.5" stroke-width="2.4" stroke-linecap="butt"/>
<line x1="247.8" y1="1037.5" x2="259.8" y2="1037.5" stroke-width="2.4" stroke-linecap="butt"/>
<line x1="318.0" y1="1055.0" x2="318.0" y2="1033.5" stroke-width="2.4" stroke-linecap="butt"/>
<line x1="312.5" y1="1033.5" x2="323.5" y2="1033.5" stroke-width="2.4" stroke-linecap="butt"/>
<line x1="379.2" y1="1253.6" x2="379.2" y2="1227.0" stroke-width="2.4" stroke-linecap="butt"/>
<line x1="373.7" y1="1227.0" x2="384.7" y2="1227.0" stroke-width="2.4" stroke-linecap="butt"/>
<polyline points="254.8,1061.0 317.0,1077.7 379.2,1253.6 441.4,1317.0 503.6,1335.0 565.8,1335.5 628.0,1337.0 690.2,1341.0" stroke-width="3.1" stroke-linejoin="round"/>
<ellipse cx="254.8" cy="1061.0" rx="14.2" ry="10.8" fill="#120c0b"/>
<ellipse cx="317.0" cy="1077.7" rx="14.2" ry="10.8" fill="#120c0b"/>
<ellipse cx="379.2" cy="1253.6" rx="14.2" ry="10.8" fill="#120c0b"/>
<ellipse cx="441.4" cy="1317.0" rx="14.2" ry="10.8" fill="#120c0b"/>
<ellipse cx="503.6" cy="1335.0" rx="14.2" ry="10.8" fill="#120c0b"/>
<ellipse cx="565.8" cy="1335.5" rx="14.2" ry="10.8" fill="#120c0b"/>
<ellipse cx="628.0" cy="1337.0" rx="14.2" ry="10.8" fill="#120c0b"/>
<ellipse cx="690.2" cy="1341.0" rx="14.2" ry="10.8" fill="#120c0b"/>
<polyline points="254.8,1061.0 317.0,1055.5 379.2,1193.1 441.4,1263.4 503.6,1327.0 565.8,1328.6 628.0,1335.0 690.2,1341.0" stroke-width="3.1" stroke-linejoin="round"/>
<rect x="244.1" y="1053.3" width="21.4" height="15.4" rx="1" fill="#fff" stroke="#120c0b" stroke-width="3"/>
<rect x="306.3" y="1047.8" width="21.4" height="15.4" rx="1" fill="#fff" stroke="#120c0b" stroke-width="3"/>
<rect x="368.5" y="1185.4" width="21.4" height="15.4" rx="1" fill="#fff" stroke="#120c0b" stroke-width="3"/>
<rect x="430.7" y="1255.7" width="21.4" height="15.4" rx="1" fill="#fff" stroke="#120c0b" stroke-width="3"/>
<rect x="492.9" y="1319.3" width="21.4" height="15.4" rx="1" fill="#fff" stroke="#120c0b" stroke-width="3"/>
<rect x="555.1" y="1320.9" width="21.4" height="15.4" rx="1" fill="#fff" stroke="#120c0b" stroke-width="3"/>
<rect x="617.3" y="1327.3" width="21.4" height="15.4" rx="1" fill="#fff" stroke="#120c0b" stroke-width="3"/>
<rect x="679.5" y="1333.3" width="21.4" height="15.4" rx="1" fill="#fff" stroke="#120c0b" stroke-width="3"/>
<polyline points="254.8,1061.3 317.0,1063.0 379.2,1083.1 441.4,1133.6 503.6,1304.4 565.8,1321.5 628.0,1344.0 690.2,1353.5" stroke-width="3.1" stroke-linejoin="round"/>
<rect x="240.6" y="1049.9" width="28.4" height="22.8" rx="2.5" fill="#120c0b"/>
<rect x="302.8" y="1051.6" width="28.4" height="22.8" rx="2.5" fill="#120c0b"/>
<rect x="365.0" y="1071.7" width="28.4" height="22.8" rx="2.5" fill="#120c0b"/>
<rect x="427.2" y="1122.2" width="28.4" height="22.8" rx="2.5" fill="#120c0b"/>
<rect x="489.4" y="1293.0" width="28.4" height="22.8" rx="2.5" fill="#120c0b"/>
<rect x="551.6" y="1310.1" width="28.4" height="22.8" rx="2.5" fill="#120c0b"/>
<rect x="613.8" y="1332.6" width="28.4" height="22.8" rx="2.5" fill="#120c0b"/>
<rect x="676.0" y="1342.1" width="28.4" height="22.8" rx="2.5" fill="#120c0b"/>
<text x="380.5" y="1064.0" font-size="30" text-anchor="middle" textLength="30.0" lengthAdjust="spacingAndGlyphs">**</text>
<text x="442.5" y="1118.0" font-size="30" text-anchor="middle" textLength="30.0" lengthAdjust="spacingAndGlyphs">**</text>
<text x="387.0" y="1181.0" font-size="30" text-anchor="middle" textLength="30.0" lengthAdjust="spacingAndGlyphs">**</text>
<text x="442.5" y="1245.0" font-size="30" text-anchor="middle" textLength="30.0" lengthAdjust="spacingAndGlyphs">**</text>
<line x1="508.0" y1="1174.0" x2="560.0" y2="1174.0" stroke-width="2.8" stroke-linecap="butt"/>
<ellipse cx="533.7" cy="1174" rx="9.6" ry="8.8" fill="#120c0b"/>
<line x1="508.0" y1="1220.0" x2="560.0" y2="1220.0" stroke-width="2.8" stroke-linecap="butt"/>
<rect x="525" y="1212.8" width="17.5" height="14.4" rx="1" fill="#fff" stroke="#120c0b" stroke-width="2.6"/>
<line x1="508.0" y1="1268.0" x2="560.0" y2="1268.0" stroke-width="2.8" stroke-linecap="butt"/>
<rect x="523.5" y="1259.8" width="20.5" height="16.4" rx="1.5" fill="#120c0b"/>
<text x="570.5" y="1178.6" font-size="33.5" textLength="213.0" lengthAdjust="spacingAndGlyphs">U87MG-EGFR</text>
<text x="570.5" y="1227.1" font-size="33.5" textLength="188.0" lengthAdjust="spacingAndGlyphs">SF763-EGFR</text>
<text x="570.5" y="1274.9" font-size="33.5" textLength="196.0" lengthAdjust="spacingAndGlyphs">LN229-EGFR</text>
</g>
<g id="panelC">
<line x1="1001.8" y1="149.5" x2="1001.8" y2="388.4" stroke-width="2.6" stroke-linecap="butt"/>
<line x1="1001.8" y1="387.1" x2="1328.0" y2="387.1" stroke-width="2.6" stroke-linecap="butt"/>
<line x1="1001.8" y1="150.7" x2="1008.3" y2="150.7" stroke-width="2.4" stroke-linecap="butt"/>
<text x="992.0" y="165.0" font-size="28.5" text-anchor="end">120</text>
<line x1="1001.8" y1="190.1" x2="1008.3" y2="190.1" stroke-width="2.4" stroke-linecap="butt"/>
<text x="992.0" y="205.1" font-size="28.5" text-anchor="end">100</text>
<line x1="1001.8" y1="229.5" x2="1008.3" y2="229.5" stroke-width="2.4" stroke-linecap="butt"/>
<text x="992.0" y="243.6" font-size="28.5" text-anchor="end">80</text>
<line x1="1001.8" y1="268.9" x2="1008.3" y2="268.9" stroke-width="2.4" stroke-linecap="butt"/>
<text x="992.0" y="282.9" font-size="28.5" text-anchor="end">60</text>
<line x1="1001.8" y1="308.3" x2="1008.3" y2="308.3" stroke-width="2.4" stroke-linecap="butt"/>
<text x="992.0" y="327.6" font-size="28.5" text-anchor="end">40</text>
<line x1="1001.8" y1="347.7" x2="1008.3" y2="347.7" stroke-width="2.4" stroke-linecap="butt"/>
<text x="992.0" y="361.6" font-size="28.5" text-anchor="end">20</text>
<line x1="1001.8" y1="387.1" x2="1008.3" y2="387.1" stroke-width="2.4" stroke-linecap="butt"/>
<text x="992.0" y="405.2" font-size="28.5" text-anchor="end">0</text>
<line x1="1066.8" y1="387.1" x2="1066.8" y2="381.1" stroke-width="2.4" stroke-linecap="butt"/>
<line x1="1131.8" y1="387.1" x2="1131.8" y2="381.1" stroke-width="2.4" stroke-linecap="butt"/>
<line x1="1196.8" y1="387.1" x2="1196.8" y2="381.1" stroke-width="2.4" stroke-linecap="butt"/>
<line x1="1261.8" y1="387.1" x2="1261.8" y2="381.1" stroke-width="2.4" stroke-linecap="butt"/>
<line x1="1326.8" y1="387.1" x2="1326.8" y2="381.1" stroke-width="2.4" stroke-linecap="butt"/>
<text x="1043.0" y="121.0" font-size="28.3" textLength="164.0" lengthAdjust="spacingAndGlyphs">LN229-EGFR</text>
<line x1="1099.3" y1="205.0" x2="1099.3" y2="182.9" stroke-width="2.2" stroke-linecap="butt"/>
<line x1="1094.8" y1="182.9" x2="1103.8" y2="182.9" stroke-width="2.2" stroke-linecap="butt"/>
<line x1="1164.3" y1="247.1" x2="1164.3" y2="231.8" stroke-width="2.2" stroke-linecap="butt"/>
<line x1="1159.8" y1="231.8" x2="1168.8" y2="231.8" stroke-width="2.2" stroke-linecap="butt"/>
<polyline points="1034.3,190.0 1099.3,190.7 1164.3,215.7 1229.3,308.6 1294.3,343.2" stroke-width="3.5" stroke-linejoin="round"/>
<polyline points="1034.3,190.7 1099.3,205.7 1164.3,247.1 1229.3,317.5 1294.3,346.1" stroke-width="3.5" stroke-linejoin="round"/>
<rect x="1027.1" y="184.6" width="14.4" height="10.9" fill="#fff" stroke="#120c0b" stroke-width="2.1"/>
<rect x="1092.1" y="185.2" width="14.4" height="10.9" fill="#fff" stroke="#120c0b" stroke-width="2.1"/>
<rect x="1157.1" y="210.2" width="14.4" height="10.9" fill="#fff" stroke="#120c0b" stroke-width="2.1"/>
<rect x="1222.1" y="303.2" width="14.4" height="10.9" fill="#fff" stroke="#120c0b" stroke-width="2.1"/>
<rect x="1287.1" y="337.8" width="14.4" height="10.9" fill="#fff" stroke="#120c0b" stroke-width="2.1"/>
<rect x="1026.0" y="184.2" width="16.5" height="13" rx="1" fill="#120c0b"/>
<rect x="1091.0" y="199.2" width="16.5" height="13" rx="1" fill="#120c0b"/>
<rect x="1156.0" y="240.6" width="16.5" height="13" rx="1" fill="#120c0b"/>
<rect x="1221.0" y="311.0" width="16.5" height="13" rx="1" fill="#120c0b"/>
<rect x="1286.0" y="339.6" width="16.5" height="13" rx="1" fill="#120c0b"/>
<text x="1039.3" y="432.3" font-size="31" text-anchor="middle">0</text>
<text x="1101.5" y="432.3" font-size="31" text-anchor="middle">0.01</text>
<text x="1171.0" y="432.3" font-size="31" text-anchor="middle">0.03</text>
<text x="1238.4" y="432.3" font-size="31" text-anchor="middle">0.1</text>
<text x="1298.8" y="432.3" font-size="31" text-anchor="middle">0.3</text>
<text x="1098.2" y="188.0" font-size="32" text-anchor="middle">*</text>
<text x="1163.6" y="210.5" font-size="32" text-anchor="middle">**</text>
<line x1="1017.9" y1="302.1" x2="1057.1" y2="302.1" stroke-width="5.6" stroke-linecap="butt"/>
<line x1="1017.9" y1="344.3" x2="1057.1" y2="344.3" stroke-width="5.6" stroke-linecap="butt"/>
<rect x="1031.9" y="296.4" width="11.2" height="11.4" fill="#fff" stroke="#120c0b" stroke-width="2.2"/>
<rect x="1030.5" y="337.1" width="14" height="14.4" fill="#120c0b"/>
<text x="1070.0" y="317.5" font-size="33" textLength="69.5" lengthAdjust="spacingAndGlyphs">siNC</text>
<text x="1070.0" y="355.0" font-size="33" textLength="105.5" lengthAdjust="spacingAndGlyphs">siPTEN</text>
<text x="942.5" y="452.0" font-size="30" textLength="363.0" lengthAdjust="spacingAndGlyphs" transform="rotate(-90 942.5 452.0)">Cell proliferation (% of control)</text>
<text x="1336.5" y="432.0" font-size="26" textLength="41.0" lengthAdjust="spacingAndGlyphs">μM</text>
<line x1="1006.4" y1="515.2" x2="1006.4" y2="786.3" stroke-width="2.6" stroke-linecap="butt"/>
<line x1="1006.4" y1="785.0" x2="1343.1" y2="785.0" stroke-width="2.6" stroke-linecap="butt"/>
<line x1="1006.4" y1="516.4" x2="1012.9" y2="516.4" stroke-width="2.4" stroke-linecap="butt"/>
<text x="994.0" y="533.8" font-size="28.5" text-anchor="end">120</text>
<line x1="1006.4" y1="561.2" x2="1012.9" y2="561.2" stroke-width="2.4" stroke-linecap="butt"/>
<text x="994.0" y="571.8" font-size="28.5" text-anchor="end">100</text>
<line x1="1006.4" y1="605.9" x2="1012.9" y2="605.9" stroke-width="2.4" stroke-linecap="butt"/>
<text x="994.0" y="614.4" font-size="28.5" text-anchor="end">80</text>
<line x1="1006.4" y1="650.7" x2="1012.9" y2="650.7" stroke-width="2.4" stroke-linecap="butt"/>
<text x="994.0" y="662.8" font-size="28.5" text-anchor="end">60</text>
<line x1="1006.4" y1="695.5" x2="1012.9" y2="695.5" stroke-width="2.4" stroke-linecap="butt"/>
<text x="994.0" y="705.4" font-size="28.5" text-anchor="end">40</text>
<line x1="1006.4" y1="740.2" x2="1012.9" y2="740.2" stroke-width="2.4" stroke-linecap="butt"/>
<text x="994.0" y="745.8" font-size="28.5" text-anchor="end">20</text>
<line x1="1006.4" y1="785.0" x2="1012.9" y2="785.0" stroke-width="2.4" stroke-linecap="butt"/>
<text x="994.0" y="782.6" font-size="28.5" text-anchor="end">0</text>
<line x1="1073.5" y1="785.0" x2="1073.5" y2="779.0" stroke-width="2.4" stroke-linecap="butt"/>
<line x1="1140.6" y1="785.0" x2="1140.6" y2="779.0" stroke-width="2.4" stroke-linecap="butt"/>
<line x1="1207.7" y1="785.0" x2="1207.7" y2="779.0" stroke-width="2.4" stroke-linecap="butt"/>
<line x1="1274.8" y1="785.0" x2="1274.8" y2="779.0" stroke-width="2.4" stroke-linecap="butt"/>
<line x1="1341.9" y1="785.0" x2="1341.9" y2="779.0" stroke-width="2.4" stroke-linecap="butt"/>
<text x="1046.5" y="502.9" font-size="28.3" textLength="157.0" lengthAdjust="spacingAndGlyphs">SF763-EGFR</text>
<line x1="1040.0" y1="561.8" x2="1040.0" y2="548.6" stroke-width="2.2" stroke-linecap="butt"/>
<line x1="1034.6" y1="548.6" x2="1045.3" y2="548.6" stroke-width="2.2" stroke-linecap="butt"/>
<line x1="1174.2" y1="660.7" x2="1174.2" y2="635.7" stroke-width="2.2" stroke-linecap="butt"/>
<line x1="1168.2" y1="635.7" x2="1180.1" y2="635.7" stroke-width="2.2" stroke-linecap="butt"/>
<line x1="1241.2" y1="716.1" x2="1241.2" y2="706.4" stroke-width="2.2" stroke-linecap="butt"/>
<line x1="1235.8" y1="706.4" x2="1246.8" y2="706.4" stroke-width="2.2" stroke-linecap="butt"/>
<polyline points="1040.0,561.8 1107.0,576.1 1174.2,660.7 1241.2,716.1 1308.3,744.6" stroke-width="3.5" stroke-linejoin="round"/>
<polyline points="1040.0,562.5 1107.0,583.9 1174.2,705.7 1241.2,735.7 1308.3,744.6" stroke-width="3.5" stroke-linejoin="round"/>
<rect x="1031.5" y="556.1" width="16.9" height="11.4" fill="#fff" stroke="#120c0b" stroke-width="2.1"/>
<rect x="1098.6" y="570.4" width="16.9" height="11.4" fill="#fff" stroke="#120c0b" stroke-width="2.1"/>
<rect x="1165.7" y="655.0" width="16.9" height="11.4" fill="#fff" stroke="#120c0b" stroke-width="2.1"/>
<rect x="1232.8" y="710.4" width="16.9" height="11.4" fill="#fff" stroke="#120c0b" stroke-width="2.1"/>
<rect x="1299.9" y="738.9" width="16.9" height="11.4" fill="#fff" stroke="#120c0b" stroke-width="2.1"/>
<rect x="1030.5" y="555.8" width="19" height="13.5" rx="1" fill="#120c0b"/>
<rect x="1097.5" y="577.1" width="19" height="13.5" rx="1" fill="#120c0b"/>
<rect x="1164.7" y="699.0" width="19" height="13.5" rx="1" fill="#120c0b"/>
<rect x="1231.8" y="729.0" width="19" height="13.5" rx="1" fill="#120c0b"/>
<rect x="1298.8" y="737.9" width="19" height="13.5" rx="1" fill="#120c0b"/>
<text x="1032.7" y="811.6" font-size="32.5" text-anchor="middle">0</text>
<text x="1104.5" y="811.6" font-size="32.5" text-anchor="middle">0.01</text>
<text x="1174.6" y="811.6" font-size="32.5" text-anchor="middle">0.03</text>
<text x="1241.0" y="811.6" font-size="32.5" text-anchor="middle">0.1</text>
<text x="1302.0" y="811.6" font-size="32.5" text-anchor="middle">0.3</text>
<text x="1174.3" y="630.0" font-size="32" text-anchor="middle">**</text>
<text x="1240.0" y="694.5" font-size="32" text-anchor="middle">**</text>
<line x1="1025.7" y1="695.7" x2="1057.9" y2="695.7" stroke-width="5.6" stroke-linecap="butt"/>
<line x1="1025.7" y1="736.8" x2="1057.9" y2="736.8" stroke-width="5.6" stroke-linecap="butt"/>
<rect x="1036.2" y="690.0" width="11.2" height="11.4" fill="#fff" stroke="#120c0b" stroke-width="2.2"/>
<rect x="1034.8" y="729.6" width="14" height="14.4" fill="#120c0b"/>
<text x="1072.5" y="708.9" font-size="33" textLength="69.5" lengthAdjust="spacingAndGlyphs">siNC</text>
<text x="1072.5" y="748.6" font-size="33" textLength="105.5" lengthAdjust="spacingAndGlyphs">siPTEN</text>
<text x="939.5" y="842.0" font-size="30" textLength="363.0" lengthAdjust="spacingAndGlyphs" transform="rotate(-90 939.5 842.0)">Cell proliferation (% of control)</text>
<text x="1352.6" y="811.8" font-size="26" textLength="41.0" lengthAdjust="spacingAndGlyphs">μM</text>
<text y="851.8" font-size="34"><tspan x="1065" textLength="171.5" lengthAdjust="spacingAndGlyphs">Cinobufagin</tspan> <tspan x="1245" font-size="33">(</tspan><tspan x="1256.5" font-size="25" textLength="39" lengthAdjust="spacingAndGlyphs">μM</tspan><tspan x="1296" font-size="33">)</tspan></text>
</g>
<g id="panelD">
<text x="1113.0" y="1083.0" font-size="33.5" textLength="194.0" lengthAdjust="spacingAndGlyphs" transform="rotate(-60 1113.0 1083.0)">LN229-EGFR</text>
<text x="1273.0" y="1083.5" font-size="33.5" textLength="185.0" lengthAdjust="spacingAndGlyphs" transform="rotate(-60 1273.0 1083.5)">SF763-EGFR</text>
<line x1="1058.6" y1="1096.0" x2="1166.3" y2="1096.0" stroke-width="2.6" stroke-linecap="butt"/>
<line x1="1207.7" y1="1096.6" x2="1314.3" y2="1096.6" stroke-width="2.6" stroke-linecap="butt"/>
<text x="1051.5" y="1213.0" font-size="33" textLength="68.0" lengthAdjust="spacingAndGlyphs" transform="rotate(-60 1051.5 1213.0)">siNC</text>
<text x="1120.0" y="1213.0" font-size="33" textLength="105.0" lengthAdjust="spacingAndGlyphs" transform="rotate(-60 1120.0 1213.0)">siPTEN</text>
<text x="1205.7" y="1213.0" font-size="33" textLength="68.0" lengthAdjust="spacingAndGlyphs" transform="rotate(-60 1205.7 1213.0)">siNC</text>
<text x="1267.0" y="1211.5" font-size="33" textLength="105.0" lengthAdjust="spacingAndGlyphs" transform="rotate(-60 1267.0 1211.5)">siPTEN</text>
<text x="918.2" y="1282.4" font-size="33" textLength="85.0" lengthAdjust="spacingAndGlyphs">PTEN</text>
<text x="910.0" y="1385.9" font-size="33" textLength="93.0" lengthAdjust="spacingAndGlyphs">β actin</text>
<clipPath id="cD"><rect x="1012.2" y="1231.8" width="308.8" height="81.9"/><rect x="1012.2" y="1336.3" width="308.8" height="81.9"/></clipPath><g clip-path="url(#cD)">
<polygon points="1011.0,1273.2 1014.0,1269.4 1017.0,1268.6 1020.0,1268.2 1022.9,1268.0 1025.9,1267.8 1028.9,1267.8 1031.9,1267.8 1034.9,1267.8 1037.8,1267.8 1040.8,1267.8 1043.8,1267.8 1046.8,1267.9 1049.8,1267.9 1052.8,1267.9 1055.8,1267.9 1058.7,1267.9 1061.7,1268.0 1064.7,1268.0 1067.7,1268.1 1070.7,1268.3 1073.6,1268.5 1076.6,1268.9 1079.6,1269.7 1082.6,1273.2 1082.6,1273.2 1079.6,1276.9 1076.6,1277.8 1073.6,1278.4 1070.7,1278.9 1067.7,1279.2 1064.7,1279.4 1061.7,1279.6 1058.7,1279.7 1055.8,1279.8 1052.8,1279.9 1049.8,1279.9 1046.8,1279.9 1043.8,1280.0 1040.8,1279.9 1037.8,1279.9 1034.9,1279.9 1031.9,1279.8 1028.9,1279.6 1025.9,1279.4 1022.9,1279.2 1020.0,1278.8 1017.0,1278.2 1014.0,1277.2 1011.0,1273.2" fill="#0a0909" fill-opacity="1.0" filter="url(#b2)"/>
<polygon points="1094.0,1275.6 1096.4,1274.3 1098.7,1274.0 1101.1,1273.8 1103.5,1273.8 1105.8,1273.8 1108.2,1273.9 1110.5,1274.0 1112.9,1274.1 1115.3,1274.2 1117.6,1274.4 1120.0,1274.4 1122.3,1274.5 1124.7,1274.4 1127.1,1274.4 1129.4,1274.2 1131.8,1274.1 1134.2,1274.0 1136.5,1273.9 1138.9,1273.8 1141.2,1273.8 1143.6,1273.8 1146.0,1274.0 1148.3,1274.3 1150.7,1275.6 1150.7,1275.6 1148.3,1277.1 1146.0,1277.5 1143.6,1277.8 1141.2,1278.0 1138.9,1278.1 1136.5,1278.1 1134.2,1278.1 1131.8,1278.0 1129.4,1277.9 1127.1,1277.8 1124.7,1277.8 1122.3,1277.7 1120.0,1277.8 1117.6,1277.8 1115.3,1277.9 1112.9,1278.0 1110.5,1278.1 1108.2,1278.1 1105.8,1278.1 1103.5,1278.0 1101.1,1277.8 1098.7,1277.5 1096.4,1277.1 1094.0,1275.6" fill="#0a0909" fill-opacity="0.3" filter="url(#b2)"/>
<linearGradient id="gd" x1="0" x2="1" y1="0" y2="0"><stop offset="0" stop-color="#0a0909"/><stop offset=".4" stop-color="#0a0909" stop-opacity=".9"/><stop offset="1" stop-color="#0a0909" stop-opacity=".3"/></linearGradient>
<polygon points="1166.3,1272.5 1168.7,1269.8 1171.1,1269.2 1173.5,1269.0 1175.9,1268.9 1178.3,1268.9 1180.7,1268.9 1183.1,1269.0 1185.5,1269.1 1187.9,1269.3 1190.3,1269.4 1192.7,1269.6 1195.2,1269.8 1197.6,1270.0 1200.0,1270.2 1202.4,1270.4 1204.8,1270.6 1207.2,1270.8 1209.6,1271.0 1212.0,1271.3 1214.4,1271.6 1216.8,1271.9 1219.2,1272.3 1221.6,1272.7 1224.0,1274.0 1224.0,1274.0 1221.6,1275.3 1219.2,1275.6 1216.8,1275.8 1214.4,1276.0 1212.0,1276.2 1209.6,1276.3 1207.2,1276.4 1204.8,1276.5 1202.4,1276.6 1200.0,1276.7 1197.6,1276.7 1195.2,1276.8 1192.7,1276.8 1190.3,1276.9 1187.9,1276.9 1185.5,1277.0 1183.1,1277.0 1180.7,1276.9 1178.3,1276.9 1175.9,1276.7 1173.5,1276.5 1171.1,1276.1 1168.7,1275.5 1166.3,1272.5" fill="url(#gd)" fill-opacity="1.0" filter="url(#b2)"/>
<polygon points="1024.7,1374.2 1027.4,1370.3 1030.2,1369.2 1032.9,1368.5 1035.6,1368.1 1038.4,1367.7 1041.1,1367.5 1043.8,1367.4 1046.6,1367.3 1049.3,1367.2 1052.0,1367.2 1054.8,1367.2 1057.5,1367.2 1060.2,1367.2 1063.0,1367.2 1065.7,1367.2 1068.4,1367.3 1071.2,1367.4 1073.9,1367.5 1076.6,1367.7 1079.4,1368.1 1082.1,1368.5 1084.8,1369.2 1087.6,1370.3 1090.3,1374.2 1090.3,1374.2 1087.6,1378.6 1084.8,1380.1 1082.1,1381.3 1079.4,1382.2 1076.6,1382.9 1073.9,1383.4 1071.2,1383.8 1068.4,1384.1 1065.7,1384.4 1063.0,1384.5 1060.2,1384.6 1057.5,1384.6 1054.8,1384.6 1052.0,1384.5 1049.3,1384.4 1046.6,1384.1 1043.8,1383.8 1041.1,1383.4 1038.4,1382.9 1035.6,1382.2 1032.9,1381.3 1030.2,1380.1 1027.4,1378.6 1024.7,1374.2" fill="#0a0909" fill-opacity="1.0" filter="url(#b2)"/>
<polygon points="1099.3,1376.1 1101.8,1372.0 1104.2,1370.9 1106.7,1370.2 1109.2,1369.7 1111.7,1369.4 1114.1,1369.1 1116.6,1369.0 1119.1,1368.9 1121.5,1368.8 1124.0,1368.8 1126.5,1368.8 1128.9,1368.8 1131.4,1368.8 1133.9,1368.8 1136.4,1368.8 1138.8,1368.9 1141.3,1369.0 1143.8,1369.1 1146.2,1369.4 1148.7,1369.7 1151.2,1370.2 1153.7,1370.9 1156.1,1372.0 1158.6,1376.1 1158.6,1376.1 1156.1,1380.6 1153.7,1382.2 1151.2,1383.3 1148.7,1384.2 1146.2,1384.8 1143.8,1385.3 1141.3,1385.7 1138.8,1385.8 1136.4,1385.6 1133.9,1385.0 1131.4,1384.2 1128.9,1383.8 1126.5,1384.2 1124.0,1385.0 1121.5,1385.6 1119.1,1385.8 1116.6,1385.7 1114.1,1385.3 1111.7,1384.8 1109.2,1384.2 1106.7,1383.3 1104.2,1382.2 1101.8,1380.6 1099.3,1376.1" fill="#0a0909" fill-opacity="1.0" filter="url(#b2)"/>
<polygon points="1169.4,1376.4 1171.9,1373.3 1174.5,1372.3 1177.0,1371.7 1179.5,1371.3 1182.1,1371.0 1184.6,1370.8 1187.1,1370.6 1189.7,1370.5 1192.2,1370.4 1194.7,1370.3 1197.3,1370.3 1199.8,1370.2 1202.3,1370.2 1204.9,1370.1 1207.4,1370.1 1209.9,1370.1 1212.5,1370.1 1215.0,1370.2 1217.5,1370.3 1220.1,1370.5 1222.6,1370.8 1225.1,1371.3 1227.7,1372.2 1230.2,1375.2 1230.2,1375.2 1227.7,1378.8 1225.1,1380.2 1222.6,1381.2 1220.1,1382.0 1217.5,1382.6 1215.0,1383.1 1212.5,1383.5 1209.9,1383.8 1207.4,1384.0 1204.9,1384.2 1202.3,1384.3 1199.8,1384.4 1197.3,1384.4 1194.7,1384.4 1192.2,1384.3 1189.7,1384.2 1187.1,1384.0 1184.6,1383.7 1182.1,1383.3 1179.5,1382.8 1177.0,1382.1 1174.5,1381.2 1171.9,1379.9 1169.4,1376.4" fill="#0a0909" fill-opacity="1.0" filter="url(#b2)"/>
<polygon points="1239.2,1376.0 1242.1,1371.5 1245.0,1370.2 1247.9,1369.3 1250.8,1368.7 1253.7,1368.2 1256.6,1367.9 1259.5,1367.6 1262.4,1367.4 1265.3,1367.3 1268.2,1367.2 1271.1,1367.1 1274.0,1367.0 1276.9,1366.9 1279.8,1366.8 1282.7,1366.8 1285.6,1366.8 1288.5,1366.8 1291.4,1366.9 1294.3,1367.1 1297.2,1367.4 1300.1,1368.0 1303.0,1368.8 1305.9,1370.1 1308.8,1375.0 1308.8,1375.0 1305.9,1380.6 1303.0,1382.6 1300.1,1383.9 1297.2,1384.9 1294.3,1385.7 1291.4,1386.3 1288.5,1386.8 1285.6,1387.1 1282.7,1387.3 1279.8,1387.5 1276.9,1387.6 1274.0,1387.6 1271.1,1387.6 1268.2,1387.5 1265.3,1387.3 1262.4,1387.1 1259.5,1386.8 1256.6,1386.4 1253.7,1385.8 1250.8,1385.0 1247.9,1384.1 1245.0,1382.9 1242.1,1381.1 1239.2,1376.0" fill="#0a0909" fill-opacity="1.0" filter="url(#b2)"/>
</g>
<rect x="1012.2" y="1231.8" width="308.8" height="81.9" fill="none" stroke="#1c1412" stroke-width="1.8"/>
<rect x="1012.2" y="1336.3" width="308.8" height="81.9" fill="none" stroke="#1c1412" stroke-width="1.8"/>
</g>
</svg></body></html>
